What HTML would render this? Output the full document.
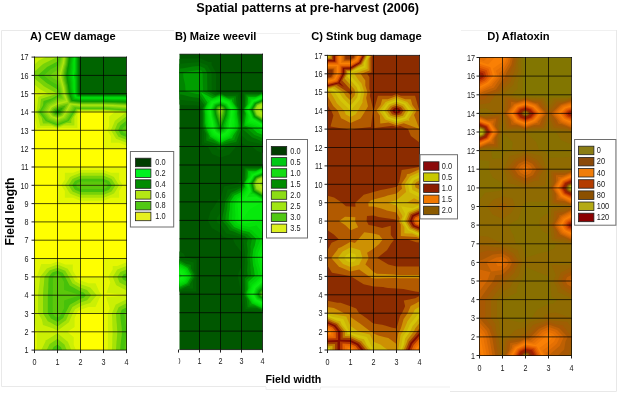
<!DOCTYPE html>
<html><head><meta charset="utf-8"><title>Spatial patterns at pre-harvest (2006)</title>
<style>
html,body{margin:0;padding:0;background:#fff;}
body{width:618px;height:396px;position:relative;overflow:hidden;font-family:"Liberation Sans",sans-serif;}
svg text{font-family:"Liberation Sans",sans-serif;}
</style></head><body>
<svg width="618" height="396" viewBox="0 0 618 396" style="position:absolute;left:0;top:0">
<g fill-rule="evenodd"><rect x="34.5" y="57.1" width="92.0" height="293.0" fill="rgb(0,100,0)"/>
<path fill="rgb(0,126,2)" d="M79.5,57.1 79.3,58.0 79.3,66.3 79.3,74.5 79.2,75.4 79.3,76.3 79.3,84.6 79.3,92.8 79.5,93.7 79.7,94.4 80.5,94.5 81.4,94.5 92.0,94.5 102.6,94.5 103.5,94.5 104.5,94.5 115.0,94.5 125.5,94.5 126.5,94.5 126.5,102.9 126.5,112.0 126.5,121.2 126.5,130.3 126.5,139.5 126.5,148.7 126.5,157.8 126.5,167.0 126.5,176.1 126.5,185.3 126.5,194.4 126.5,203.6 126.5,212.8 126.5,221.9 126.5,231.1 126.5,240.2 126.5,249.4 126.5,258.5 126.5,267.7 126.5,276.9 126.5,286.0 126.5,295.2 126.5,304.3 126.5,313.5 126.5,322.6 126.5,331.8 126.5,340.9 126.5,350.1 115.0,350.1 103.5,350.1 92.0,350.1 80.5,350.1 69.0,350.1 57.5,350.1 46.0,350.1 34.5,350.1 34.5,340.9 34.5,331.8 34.5,322.6 34.5,313.5 34.5,304.3 34.5,295.2 34.5,286.0 34.5,276.9 34.5,267.7 34.5,258.5 34.5,249.4 34.5,240.2 34.5,231.1 34.5,221.9 34.5,212.8 34.5,203.6 34.5,194.4 34.5,185.3 34.5,176.1 34.5,167.0 34.5,157.8 34.5,148.7 34.5,139.5 34.5,130.3 34.5,121.2 34.5,112.0 34.5,102.9 34.5,93.7 34.5,84.6 34.5,75.4 34.5,66.3 34.5,57.1 46.0,57.1 57.5,57.1 69.0,57.1Z"/>
<path fill="rgb(0,152,4)" d="M78.4,57.1 78.2,58.9 78.2,66.3 78.2,73.6 77.9,75.4 78.2,77.3 78.2,84.6 78.2,91.9 78.4,93.7 78.9,95.0 80.5,95.2 82.3,95.2 92.0,95.2 101.7,95.2 103.5,95.2 105.4,95.3 115.0,95.3 124.6,95.3 126.5,95.3 126.5,102.9 126.5,112.0 126.5,121.2 126.5,130.3 126.5,139.5 126.5,148.7 126.5,157.8 126.5,167.0 126.5,176.1 126.5,185.3 126.5,194.4 126.5,203.6 126.5,212.8 126.5,221.9 126.5,231.1 126.5,240.2 126.5,249.4 126.5,258.5 126.5,267.7 126.5,276.9 126.5,286.0 126.5,295.2 126.5,304.3 126.5,313.5 126.5,322.6 126.5,331.8 126.5,340.9 126.5,350.1 115.0,350.1 103.5,350.1 92.0,350.1 80.5,350.1 69.0,350.1 57.5,350.1 46.0,350.1 34.5,350.1 34.5,340.9 34.5,331.8 34.5,322.6 34.5,313.5 34.5,304.3 34.5,295.2 34.5,286.0 34.5,276.9 34.5,267.7 34.5,258.5 34.5,249.4 34.5,240.2 34.5,231.1 34.5,221.9 34.5,212.8 34.5,203.6 34.5,194.4 34.5,185.3 34.5,176.1 34.5,167.0 34.5,157.8 34.5,148.7 34.5,139.5 34.5,130.3 34.5,121.2 34.5,112.0 34.5,102.9 34.5,93.7 34.5,84.6 34.5,75.4 34.5,66.3 34.5,57.1 46.0,57.1 57.5,57.1 69.0,57.1Z"/>
<path fill="rgb(0,178,6)" d="M77.4,57.1 77.0,59.9 77.0,66.3 77.0,72.6 76.6,75.4 77.0,78.2 77.0,84.6 77.0,91.0 77.4,93.7 78.1,95.7 80.5,95.9 83.3,95.9 92.0,95.9 100.7,95.9 103.5,95.9 106.4,96.0 115.0,96.0 123.6,96.0 126.5,96.1 126.5,102.9 126.5,112.0 126.5,121.2 126.5,130.3 126.5,139.5 126.5,148.7 126.5,157.8 126.5,167.0 126.5,176.1 126.5,185.3 126.5,194.4 126.5,203.6 126.5,212.8 126.5,221.9 126.5,231.1 126.5,240.2 126.5,249.4 126.5,258.5 126.5,267.7 126.5,276.9 126.5,286.0 126.5,295.2 126.5,304.3 126.5,313.5 126.5,322.6 126.5,331.8 126.5,340.9 126.5,350.1 115.0,350.1 103.5,350.1 92.0,350.1 80.5,350.1 69.0,350.1 57.5,350.1 46.0,350.1 34.5,350.1 34.5,340.9 34.5,331.8 34.5,322.6 34.5,313.5 34.5,304.3 34.5,295.2 34.5,286.0 34.5,276.9 34.5,267.7 34.5,258.5 34.5,249.4 34.5,240.2 34.5,231.1 34.5,221.9 34.5,212.8 34.5,203.6 34.5,194.4 34.5,185.3 34.5,176.1 34.5,167.0 34.5,157.8 34.5,148.7 34.5,139.5 34.5,130.3 34.5,121.2 34.5,112.0 34.5,102.9 34.5,93.7 34.5,84.6 34.5,75.4 34.5,66.3 34.5,57.1 46.0,57.1 57.5,57.1 69.0,57.1Z"/>
<path fill="rgb(0,204,8)" d="M76.3,57.1 75.9,60.8 75.9,66.3 75.9,71.7 75.3,75.4 75.9,79.1 75.9,84.6 75.9,90.0 76.3,93.7 77.3,96.3 80.5,96.7 84.2,96.7 92.0,96.7 99.8,96.7 103.5,96.7 107.3,96.8 115.0,96.8 122.7,96.8 126.5,96.9 126.5,102.9 126.5,112.0 126.5,121.2 126.5,130.3 126.5,139.5 126.5,148.7 126.5,157.8 126.5,167.0 126.5,176.1 126.5,185.3 126.5,194.4 126.5,203.6 126.5,212.8 126.5,221.9 126.5,231.1 126.5,240.2 126.5,249.4 126.5,258.5 126.5,267.7 126.5,276.9 126.5,286.0 126.5,295.2 126.5,304.3 126.5,313.5 126.5,322.6 126.5,331.8 126.5,340.9 126.5,350.1 115.0,350.1 103.5,350.1 92.0,350.1 80.5,350.1 69.0,350.1 57.5,350.1 46.0,350.1 34.5,350.1 34.5,340.9 34.5,331.8 34.5,322.6 34.5,313.5 34.5,304.3 34.5,295.2 34.5,286.0 34.5,276.9 34.5,267.7 34.5,258.5 34.5,249.4 34.5,240.2 34.5,231.1 34.5,221.9 34.5,212.8 34.5,203.6 34.5,194.4 34.5,185.3 34.5,176.1 34.5,167.0 34.5,157.8 34.5,148.7 34.5,139.5 34.5,130.3 34.5,121.2 34.5,112.0 34.5,102.9 34.5,93.7 34.5,84.6 34.5,75.4 34.5,66.3 34.5,57.1 46.0,57.1 57.5,57.1 69.0,57.1Z"/>
<path fill="rgb(0,230,10)" d="M75.3,57.1 74.7,61.7 74.7,66.3 74.7,70.8 74.0,75.4 74.7,80.0 74.7,84.6 74.7,89.1 75.3,93.7 76.5,96.9 80.5,97.4 85.1,97.4 92.0,97.4 98.9,97.4 103.5,97.4 108.3,97.5 115.0,97.5 121.7,97.5 126.5,97.7 126.5,102.9 126.5,112.0 126.5,121.2 126.5,130.3 126.5,139.5 126.5,148.7 126.5,157.8 126.5,167.0 126.5,176.1 126.5,185.3 126.5,194.4 126.5,203.6 126.5,212.8 126.5,221.9 126.5,231.1 126.5,240.2 126.5,249.4 126.5,258.5 126.5,267.7 126.5,276.9 126.5,286.0 126.5,295.2 126.5,304.3 126.5,313.5 126.5,322.6 126.5,331.8 126.5,340.9 126.5,350.1 115.0,350.1 103.5,350.1 92.0,350.1 80.5,350.1 69.0,350.1 57.5,350.1 46.0,350.1 34.5,350.1 34.5,340.9 34.5,331.8 34.5,322.6 34.5,313.5 34.5,304.3 34.5,295.2 34.5,286.0 34.5,276.9 34.5,267.7 34.5,258.5 34.5,249.4 34.5,240.2 34.5,231.1 34.5,221.9 34.5,212.8 34.5,203.6 34.5,194.4 34.5,185.3 34.5,176.1 34.5,167.0 34.5,157.8 34.5,148.7 34.5,139.5 34.5,130.3 34.5,121.2 34.5,112.0 34.5,102.9 34.5,93.7 34.5,84.6 34.5,75.4 34.5,66.3 34.5,57.1 46.0,57.1 57.5,57.1 69.0,57.1Z"/>
<path fill="rgb(2,214,8)" d="M74.2,57.1 73.6,62.6 73.6,66.3 73.6,69.9 72.7,75.4 73.6,80.9 73.6,84.6 73.6,88.2 74.2,93.7 75.7,97.6 80.5,98.1 86.0,98.1 92.0,98.1 98.0,98.1 103.5,98.1 109.2,98.3 115.0,98.3 120.8,98.3 126.5,98.5 126.5,102.9 126.5,112.0 126.5,121.2 126.5,130.3 126.5,139.5 126.5,148.7 126.5,157.8 126.5,167.0 126.5,176.1 126.5,185.3 126.5,194.4 126.5,203.6 126.5,212.8 126.5,221.9 126.5,231.1 126.5,240.2 126.5,249.4 126.5,258.5 126.5,267.7 126.5,276.9 126.5,286.0 126.5,295.2 126.5,304.3 126.5,313.5 126.5,322.6 126.5,331.8 126.5,340.9 126.5,350.1 115.0,350.1 103.5,350.1 92.0,350.1 80.5,350.1 69.0,350.1 57.5,350.1 46.0,350.1 34.5,350.1 34.5,340.9 34.5,331.8 34.5,322.6 34.5,313.5 34.5,304.3 34.5,295.2 34.5,286.0 34.5,276.9 34.5,267.7 34.5,258.5 34.5,249.4 34.5,240.2 34.5,231.1 34.5,221.9 34.5,212.8 34.5,203.6 34.5,194.4 34.5,185.3 34.5,176.1 34.5,167.0 34.5,157.8 34.5,148.7 34.5,139.5 34.5,130.3 34.5,121.2 34.5,112.0 34.5,102.9 34.5,93.7 34.5,84.6 34.5,75.4 34.5,66.3 34.5,57.1 46.0,57.1 57.5,57.1 69.0,57.1Z"/>
<path fill="rgb(4,198,6)" d="M73.2,57.1 72.4,63.5 72.4,66.3 72.4,69.0 71.4,75.4 72.4,81.9 72.4,84.6 72.4,87.3 73.2,93.7 74.9,98.2 80.5,98.9 86.9,98.9 92.0,98.9 97.1,98.9 103.5,98.9 110.2,99.1 115.0,99.1 119.8,99.1 126.5,99.3 126.5,102.9 126.5,112.0 126.5,121.2 126.5,130.3 126.5,139.5 126.5,148.7 126.5,157.8 126.5,167.0 126.5,176.1 126.5,185.3 126.5,194.4 126.5,203.6 126.5,212.8 126.5,221.9 126.5,231.1 126.5,240.2 126.5,249.4 126.5,258.5 126.5,267.7 126.5,276.9 126.5,286.0 126.5,295.2 126.5,304.3 126.5,313.5 126.5,322.6 126.5,331.8 126.5,340.9 126.5,350.1 115.0,350.1 103.5,350.1 92.0,350.1 80.5,350.1 69.0,350.1 57.5,350.1 46.0,350.1 34.5,350.1 34.5,340.9 34.5,331.8 34.5,322.6 34.5,313.5 34.5,304.3 34.5,295.2 34.5,286.0 34.5,276.9 34.5,267.7 34.5,258.5 34.5,249.4 34.5,240.2 34.5,231.1 34.5,221.9 34.5,212.8 34.5,203.6 34.5,194.4 34.5,185.3 34.5,176.1 34.5,167.0 34.5,157.8 34.5,148.7 34.5,139.5 34.5,130.3 34.5,121.2 34.5,112.0 34.5,102.9 34.5,93.7 34.5,84.6 34.5,75.4 34.5,66.3 34.5,57.1 46.0,57.1 57.5,57.1 69.0,57.1Z"/>
<path fill="rgb(6,182,4)" d="M72.1,57.1 71.2,64.5 71.2,66.3 71.2,68.0 70.1,75.4 71.2,82.8 71.2,84.6 71.2,86.4 72.1,93.7 74.0,98.9 80.5,99.6 87.9,99.6 92.0,99.6 96.1,99.6 103.5,99.6 111.2,99.8 115.0,99.8 118.8,99.8 126.5,100.1 126.5,102.9 126.5,112.0 126.5,121.2 126.5,130.3 126.5,139.5 126.5,148.7 126.5,157.8 126.5,167.0 126.5,176.1 126.5,185.3 126.5,194.4 126.5,203.6 126.5,212.8 126.5,221.9 126.5,231.1 126.5,240.2 126.5,249.4 126.5,258.5 126.5,267.7 126.5,276.9 126.5,286.0 126.5,295.2 126.5,304.3 126.5,313.5 126.5,322.6 126.5,331.8 126.5,340.9 126.5,350.1 115.0,350.1 103.5,350.1 92.0,350.1 80.5,350.1 69.0,350.1 57.5,350.1 46.0,350.1 34.5,350.1 34.5,340.9 34.5,331.8 34.5,322.6 34.5,313.5 34.5,304.3 34.5,295.2 34.5,286.0 34.5,276.9 34.5,267.7 34.5,258.5 34.5,249.4 34.5,240.2 34.5,231.1 34.5,221.9 34.5,212.8 34.5,203.6 34.5,194.4 34.5,185.3 34.5,176.1 34.5,167.0 34.5,157.8 34.5,148.7 34.5,139.5 34.5,130.3 34.5,121.2 34.5,112.0 34.5,102.9 34.5,93.7 34.5,84.6 34.5,75.4 34.5,66.3 34.5,57.1 46.0,57.1 57.5,57.1 69.0,57.1Z"/>
<path fill="rgb(8,166,2)" d="M71.1,57.1 70.1,65.4 70.1,66.3 70.1,67.1 69.0,74.3 68.8,75.4 69.0,76.5 70.1,83.7 70.1,84.6 70.1,85.4 71.1,93.7 73.2,99.5 80.5,100.3 88.8,100.3 92.0,100.3 95.2,100.3 103.5,100.3 112.1,100.6 115.0,100.6 117.9,100.6 126.5,100.9 126.5,102.9 126.5,112.0 126.5,121.2 126.5,130.3 126.5,139.5 126.5,148.7 126.5,157.8 126.5,167.0 126.5,176.1 126.5,185.3 126.5,194.4 126.5,203.6 126.5,212.8 126.5,221.9 126.5,231.1 126.5,240.2 126.5,249.4 126.5,258.5 126.5,267.7 126.5,276.9 126.5,286.0 126.5,295.2 126.5,304.3 126.5,313.5 126.5,322.6 126.5,331.8 126.5,340.9 126.5,350.1 115.0,350.1 103.5,350.1 92.0,350.1 80.5,350.1 69.0,350.1 57.5,350.1 46.0,350.1 34.5,350.1 34.5,340.9 34.5,331.8 34.5,322.6 34.5,313.5 34.5,304.3 34.5,295.2 34.5,286.0 34.5,276.9 34.5,267.7 34.5,258.5 34.5,249.4 34.5,240.2 34.5,231.1 34.5,221.9 34.5,212.8 34.5,203.6 34.5,194.4 34.5,185.3 34.5,176.1 34.5,167.0 34.5,157.8 34.5,148.7 34.5,139.5 34.5,130.3 34.5,121.2 34.5,112.0 34.5,102.9 34.5,93.7 34.5,84.6 34.5,75.4 34.5,66.3 34.5,57.1 46.0,57.1 57.5,57.1 69.0,57.1Z"/>
<path fill="rgb(10,150,0)" d="M70.0,57.1 69.0,65.7 68.9,66.2 68.9,66.3 68.9,66.3 67.5,75.4 68.9,84.5 68.9,84.6 68.9,84.6 69.0,85.1 70.0,93.7 72.4,100.2 80.5,101.0 89.7,101.0 92.0,101.0 94.3,101.0 103.5,101.0 113.1,101.4 115.0,101.4 116.9,101.4 126.5,101.7 126.5,102.9 126.5,112.0 126.5,121.2 126.5,130.3 126.5,139.5 126.5,148.7 126.5,157.8 126.5,167.0 126.5,176.1 126.5,185.3 126.5,194.4 126.5,203.6 126.5,212.8 126.5,221.9 126.5,231.1 126.5,240.2 126.5,249.4 126.5,258.5 126.5,267.7 126.5,276.9 126.5,286.0 126.5,295.2 126.5,304.3 126.5,313.5 126.5,322.6 126.5,331.8 126.5,340.9 126.5,350.1 115.0,350.1 103.5,350.1 92.0,350.1 80.5,350.1 69.0,350.1 57.5,350.1 46.0,350.1 34.5,350.1 34.5,340.9 34.5,331.8 34.5,322.6 34.5,313.5 34.5,304.3 34.5,295.2 34.5,286.0 34.5,276.9 34.5,267.7 34.5,258.5 34.5,249.4 34.5,240.2 34.5,231.1 34.5,221.9 34.5,212.8 34.5,203.6 34.5,194.4 34.5,185.3 34.5,176.1 34.5,167.0 34.5,157.8 34.5,148.7 34.5,139.5 34.5,130.3 34.5,121.2 34.5,112.0 34.5,102.9 34.5,93.7 34.5,84.6 34.5,75.4 34.5,66.3 34.5,57.1 46.0,57.1 57.5,57.1 69.0,57.1Z"/>
<path fill="rgb(43,166,3)" d="M69.0,57.1 68.0,65.4 67.8,66.3 67.4,67.5 66.2,75.4 67.4,83.3 67.8,84.6 68.0,85.4 69.0,93.7 71.6,100.8 80.5,101.8 90.6,101.8 92.0,101.8 93.4,101.8 103.5,101.8 114.0,102.1 115.0,102.1 116.0,102.1 126.5,102.5 126.5,102.9 126.5,112.0 126.5,121.2 126.5,130.3 126.5,139.5 126.5,148.7 126.5,157.8 126.5,167.0 126.5,176.1 126.5,185.3 126.5,194.4 126.5,203.6 126.5,212.8 126.5,221.9 126.5,231.1 126.5,240.2 126.5,249.4 126.5,258.5 126.5,267.7 126.5,276.9 126.5,286.0 126.5,295.2 126.5,304.3 126.5,313.5 126.5,322.6 126.5,331.8 126.5,340.9 126.5,350.1 115.0,350.1 103.5,350.1 92.0,350.1 80.5,350.1 69.0,350.1 57.5,350.1 46.0,350.1 34.5,350.1 34.5,340.9 34.5,331.8 34.5,322.6 34.5,313.5 34.5,304.3 34.5,295.2 34.5,286.0 34.5,276.9 34.5,267.7 34.5,258.5 34.5,249.4 34.5,240.2 34.5,231.1 34.5,221.9 34.5,212.8 34.5,203.6 34.5,194.4 34.5,185.3 34.5,176.1 34.5,167.0 34.5,157.8 34.5,148.7 34.5,139.5 34.5,130.3 34.5,121.2 34.5,112.0 34.5,102.9 34.5,93.7 34.5,84.6 34.5,75.4 34.5,66.3 34.5,57.1 46.0,57.1 57.5,57.1ZM56.4,111.1 55.8,112.0 56.4,112.9 57.5,113.3 58.5,112.9 59.0,112.0 60.2,109.9 57.5,110.5Z"/>
<path fill="rgb(76,182,6)" d="M68.0,57.1 67.0,64.7 66.6,66.3 66.0,68.7 65.0,75.4 66.0,82.2 66.6,84.6 67.0,86.1 68.0,93.7 69.0,96.5 70.8,101.4 80.5,102.5 91.5,102.5 92.0,102.5 92.5,102.5 103.5,102.5 115.0,102.9 126.5,103.3 126.5,112.0 126.5,121.2 126.5,130.3 126.5,139.5 126.5,148.7 126.5,157.8 126.5,167.0 126.5,176.1 126.5,185.3 126.5,194.4 126.5,203.6 126.5,212.8 126.5,221.9 126.5,231.1 126.5,240.2 126.5,249.4 126.5,258.5 126.5,267.7 126.5,276.9 126.5,286.0 126.5,295.2 126.5,304.3 126.5,313.5 126.5,322.6 126.5,331.8 126.5,340.9 126.5,350.1 115.0,350.1 103.5,350.1 92.0,350.1 80.5,350.1 69.0,350.1 57.5,350.1 46.0,350.1 34.5,350.1 34.5,340.9 34.5,331.8 34.5,322.6 34.5,313.5 34.5,304.3 34.5,295.2 34.5,286.0 34.5,276.9 34.5,267.7 34.5,258.5 34.5,249.4 34.5,240.2 34.5,231.1 34.5,221.9 34.5,212.8 34.5,203.6 34.5,194.4 34.5,185.3 34.5,176.1 34.5,167.0 34.5,157.8 34.5,148.7 34.5,139.5 34.5,130.3 34.5,121.2 34.5,112.0 34.5,102.9 34.5,93.7 34.5,84.6 34.5,75.4 34.5,66.3 34.5,57.1 46.0,57.1 57.5,57.1ZM55.2,110.2 54.2,112.0 55.4,113.7 57.5,114.5 59.5,113.7 60.6,112.0 62.9,107.7 57.5,109.0Z"/>
<path fill="rgb(109,198,9)" d="M66.9,57.1 66.1,63.9 65.5,66.3 64.5,69.8 63.7,75.4 64.5,81.0 65.5,84.6 66.1,86.9 66.9,93.7 69.0,99.4 70.0,102.1 77.2,102.9 80.5,103.2 91.5,103.2 92.0,103.2 92.5,103.2 103.5,103.2 114.1,103.6 115.0,103.6 116.0,103.7 126.5,104.1 126.5,112.0 126.5,121.2 126.5,130.3 126.5,139.5 126.5,148.7 126.5,157.8 126.5,167.0 126.5,176.1 126.5,185.3 126.5,194.4 126.5,203.6 126.5,212.8 126.5,221.9 126.5,231.1 126.5,240.2 126.5,249.4 126.5,258.5 126.5,267.7 126.5,276.9 126.5,286.0 126.5,295.2 126.5,304.3 126.5,313.5 126.5,322.6 126.5,331.8 126.5,340.9 126.5,350.1 115.0,350.1 103.5,350.1 92.0,350.1 80.5,350.1 69.0,350.1 57.5,350.1 46.0,350.1 34.5,350.1 34.5,340.9 34.5,331.8 34.5,322.6 34.5,313.5 34.5,304.3 34.5,295.2 34.5,286.0 34.5,276.9 34.5,267.7 34.5,258.5 34.5,249.4 34.5,240.2 34.5,231.1 34.5,221.9 34.5,212.8 34.5,203.6 34.5,194.4 34.5,185.3 34.5,176.1 34.5,167.0 34.5,157.8 34.5,148.7 34.5,139.5 34.5,130.3 34.5,121.2 34.5,112.0 34.5,102.9 34.5,93.7 34.5,84.6 34.5,75.4 34.5,66.3 34.5,57.1 46.0,57.1 57.5,57.1ZM54.1,109.3 52.5,112.0 54.3,114.5 57.5,115.7 60.6,114.5 62.1,112.0 65.6,105.6 57.5,107.5Z"/>
<path fill="rgb(142,214,12)" d="M65.9,57.1 65.1,63.2 64.3,66.3 63.0,71.0 62.4,75.4 63.0,79.8 64.3,84.6 65.1,87.7 65.9,93.7 69.0,102.2 69.2,102.7 70.6,102.9 80.5,104.0 90.6,104.0 92.0,104.0 93.4,104.0 103.5,104.0 113.2,104.3 115.0,104.4 117.1,104.5 126.5,104.9 126.5,112.0 126.5,121.2 126.5,130.3 126.5,139.5 126.5,148.7 126.5,157.8 126.5,167.0 126.5,176.1 126.5,185.3 126.5,194.4 126.5,203.6 126.5,212.8 126.5,221.9 126.5,231.1 126.5,240.2 126.5,249.4 126.5,258.5 126.5,267.7 126.5,276.9 126.5,286.0 126.5,295.2 126.5,304.3 126.5,313.5 126.5,322.6 126.5,331.8 126.5,340.9 126.5,350.1 115.0,350.1 103.5,350.1 92.0,350.1 80.5,350.1 69.0,350.1 57.5,350.1 46.0,350.1 34.5,350.1 34.5,340.9 34.5,331.8 34.5,322.6 34.5,313.5 34.5,304.3 34.5,295.2 34.5,286.0 34.5,276.9 34.5,267.7 34.5,258.5 34.5,249.4 34.5,240.2 34.5,231.1 34.5,221.9 34.5,212.8 34.5,203.6 34.5,194.4 34.5,185.3 34.5,176.1 34.5,167.0 34.5,157.8 34.5,148.7 34.5,139.5 34.5,130.3 34.5,121.2 34.5,112.0 34.5,102.9 34.5,93.7 34.5,84.6 34.5,75.4 34.5,66.3 34.5,57.1 46.0,57.1 57.5,57.1ZM52.9,108.4 50.8,112.0 53.3,115.4 57.5,116.9 61.6,115.3 63.6,112.0 68.3,103.4 57.5,105.9Z"/>
<path fill="rgb(175,230,15)" d="M64.8,57.1 64.2,62.4 63.1,66.3 61.5,72.2 61.1,75.4 61.5,78.6 63.1,84.6 64.2,88.4 64.8,93.7 67.9,102.0 64.1,102.9 57.5,104.4 51.8,107.5 49.1,112.0 52.2,116.2 57.5,118.1 62.6,116.1 65.2,112.0 69.0,105.0 69.8,103.5 80.5,104.7 89.7,104.7 92.0,104.7 94.3,104.7 103.5,104.7 112.3,105.0 115.0,105.2 118.1,105.4 126.5,105.7 126.5,112.0 126.5,121.2 126.5,130.3 126.5,139.5 126.5,148.7 126.5,157.8 126.5,167.0 126.5,176.1 126.5,185.3 126.5,194.4 126.5,203.6 126.5,212.8 126.5,221.9 126.5,231.1 126.5,240.2 126.5,249.4 126.5,258.5 126.5,267.7 126.5,276.9 126.5,286.0 126.5,295.2 126.5,304.3 126.5,313.5 126.5,322.6 126.5,331.8 126.5,340.9 126.5,350.1 115.0,350.1 103.5,350.1 92.0,350.1 80.5,350.1 69.0,350.1 57.5,350.1 46.0,350.1 34.5,350.1 34.5,340.9 34.5,331.8 34.5,322.6 34.5,313.5 34.5,304.3 34.5,295.2 34.5,286.0 34.5,276.9 34.5,267.7 34.5,258.5 34.5,249.4 34.5,240.2 34.5,231.1 34.5,221.9 34.5,212.8 34.5,203.6 34.5,194.4 34.5,185.3 34.5,176.1 34.5,167.0 34.5,157.8 34.5,148.7 34.5,139.5 34.5,130.3 34.5,121.2 34.5,112.0 34.5,102.9 34.5,93.7 34.5,84.6 34.5,75.4 34.5,66.3 34.5,57.1 46.0,57.1 57.5,57.1Z"/>
<path fill="rgb(154,223,14)" d="M63.8,57.1 63.2,61.7 62.0,66.3 60.1,73.4 59.8,75.4 60.1,77.5 62.0,84.6 63.2,89.2 63.8,93.7 66.4,100.8 57.5,102.9 50.6,106.6 47.5,112.0 51.2,117.1 57.5,119.4 63.6,116.9 66.7,112.0 69.0,107.8 70.9,104.4 80.5,105.4 88.8,105.4 92.0,105.4 95.2,105.4 103.5,105.4 111.5,105.7 115.0,105.9 119.2,106.2 126.5,106.5 126.5,112.0 126.5,121.2 126.5,130.3 126.5,139.5 126.5,148.7 126.5,157.8 126.5,167.0 126.5,176.1 126.5,185.3 126.5,194.4 126.5,203.6 126.5,212.8 126.5,221.9 126.5,231.1 126.5,240.2 126.5,249.4 126.5,258.5 126.5,267.7 126.5,276.9 126.5,286.0 126.5,295.2 126.5,304.3 126.5,313.5 126.5,322.6 126.5,331.8 126.5,340.9 126.5,350.1 115.0,350.1 103.5,350.1 92.0,350.1 80.5,350.1 69.0,350.1 57.5,350.1 46.0,350.1 34.5,350.1 34.5,340.9 34.5,331.8 34.5,322.6 34.5,313.5 34.5,304.3 34.5,295.2 34.5,286.0 34.5,276.9 34.5,267.7 34.5,258.5 34.5,249.4 34.5,240.2 34.5,231.1 34.5,221.9 34.5,212.8 34.5,203.6 34.5,194.4 34.5,185.3 34.5,176.1 34.5,167.0 34.5,157.8 34.5,148.7 34.5,139.5 34.5,130.3 34.5,121.2 34.5,112.0 34.5,102.9 34.5,93.7 34.5,84.6 34.5,75.4 34.5,66.3 34.5,57.1 46.0,57.1 57.5,57.1Z"/>
<path fill="rgb(133,215,13)" d="M62.7,57.1 62.3,60.9 60.8,66.3 58.6,74.5 58.5,75.4 58.6,76.3 60.8,84.6 62.3,89.9 62.7,93.7 64.9,99.6 57.5,101.4 54.7,102.9 49.5,105.7 46.0,111.7 45.8,112.0 46.0,112.3 50.1,117.9 57.5,120.6 64.7,117.7 68.2,112.0 69.0,110.6 71.9,105.2 80.5,106.2 87.9,106.2 92.0,106.2 96.1,106.2 103.5,106.2 110.6,106.4 115.0,106.7 120.2,107.0 126.5,107.3 126.5,112.0 126.5,121.2 126.5,130.3 126.5,139.5 126.5,148.7 126.5,157.8 126.5,167.0 126.5,176.1 126.5,185.3 126.5,194.4 126.5,203.6 126.5,212.8 126.5,221.9 126.5,231.1 126.5,240.2 126.5,249.4 126.5,258.5 126.5,267.7 126.5,276.9 126.5,286.0 126.5,295.2 126.5,304.3 126.5,313.5 126.5,322.6 126.5,331.8 126.5,340.9 126.5,350.1 115.0,350.1 103.5,350.1 92.0,350.1 80.5,350.1 69.0,350.1 57.5,350.1 46.0,350.1 34.5,350.1 34.5,340.9 34.5,331.8 34.5,322.6 34.5,313.5 34.5,304.3 34.5,295.2 34.5,286.0 34.5,276.9 34.5,267.7 34.5,258.5 34.5,249.4 34.5,240.2 34.5,231.1 34.5,221.9 34.5,212.8 34.5,203.6 34.5,194.4 34.5,185.3 34.5,176.1 34.5,167.0 34.5,157.8 34.5,148.7 34.5,139.5 34.5,130.3 34.5,121.2 34.5,112.0 34.5,102.9 34.5,93.7 34.5,84.6 34.5,75.4 34.5,66.3 34.5,57.1 46.0,57.1 57.5,57.1Z"/>
<path fill="rgb(112,208,12)" d="M61.7,57.1 61.3,60.1 59.7,66.3 57.5,74.3 56.7,74.8 56.0,75.4 56.7,76.0 57.5,76.5 59.7,84.6 61.3,90.7 61.7,93.7 63.4,98.5 57.5,99.8 51.8,102.9 48.4,104.8 46.0,108.8 44.1,112.0 46.0,114.6 49.1,118.7 55.8,121.2 57.5,121.8 59.0,121.2 65.7,118.5 69.0,113.3 69.8,112.0 73.0,106.1 80.5,106.9 86.9,106.9 92.0,106.9 97.1,106.9 103.5,106.9 109.7,107.1 115.0,107.5 121.3,107.9 126.5,108.1 126.5,112.0 126.5,121.2 126.5,130.3 126.5,139.5 126.5,148.7 126.5,157.8 126.5,167.0 126.5,176.1 126.5,185.3 126.5,194.4 126.5,203.6 126.5,212.8 126.5,221.9 126.5,231.1 126.5,240.2 126.5,249.4 126.5,258.5 126.5,267.7 126.5,276.9 126.5,286.0 126.5,295.2 126.5,304.3 126.5,313.5 126.5,322.6 126.5,331.8 126.5,340.9 126.5,350.1 115.0,350.1 103.5,350.1 92.0,350.1 80.5,350.1 69.0,350.1 57.5,350.1 46.0,350.1 34.5,350.1 34.5,340.9 34.5,331.8 34.5,322.6 34.5,313.5 34.5,304.3 34.5,295.2 34.5,286.0 34.5,276.9 34.5,267.7 34.5,258.5 34.5,249.4 34.5,240.2 34.5,231.1 34.5,221.9 34.5,212.8 34.5,203.6 34.5,194.4 34.5,185.3 34.5,176.1 34.5,167.0 34.5,157.8 34.5,148.7 34.5,139.5 34.5,130.3 34.5,121.2 34.5,112.0 34.5,102.9 34.5,93.7 34.5,84.6 34.5,75.4 34.5,66.3 34.5,57.1 46.0,57.1 57.5,57.1Z"/>
<path fill="rgb(91,200,11)" d="M60.6,57.1 60.4,59.4 58.5,66.3 57.5,70.0 53.5,72.2 49.8,75.4 53.6,78.5 57.5,80.8 58.5,84.6 60.4,91.4 60.6,93.7 62.0,97.3 57.5,98.3 49.0,102.9 47.2,103.8 46.0,105.9 42.4,112.0 46.0,116.8 48.0,119.6 52.5,121.2 57.5,123.0 62.1,121.2 66.7,119.4 69.0,115.7 71.3,112.0 74.1,106.9 80.5,107.6 86.0,107.6 92.0,107.6 98.0,107.6 103.5,107.6 108.8,107.8 115.0,108.2 122.3,108.7 126.5,108.9 126.5,112.0 126.5,121.2 126.5,129.3 125.8,129.8 125.6,130.3 125.9,130.8 126.5,131.1 126.5,139.5 126.5,148.7 126.5,157.8 126.5,167.0 126.5,176.1 126.5,185.3 126.5,194.4 126.5,203.6 126.5,212.8 126.5,221.9 126.5,231.1 126.5,240.2 126.5,249.4 126.5,258.5 126.5,267.7 126.5,276.9 126.5,286.0 126.5,295.2 126.5,304.3 126.5,313.5 126.5,322.6 126.5,331.8 126.5,340.9 126.5,350.1 115.0,350.1 103.5,350.1 92.0,350.1 80.5,350.1 69.0,350.1 57.5,350.1 46.0,350.1 34.5,350.1 34.5,340.9 34.5,331.8 34.5,322.6 34.5,313.5 34.5,304.3 34.5,295.2 34.5,286.0 34.5,276.9 34.5,267.7 34.5,258.5 34.5,249.4 34.5,240.2 34.5,231.1 34.5,221.9 34.5,212.8 34.5,203.6 34.5,194.4 34.5,185.3 34.5,176.1 34.5,167.0 34.5,157.8 34.5,148.7 34.5,139.5 34.5,130.3 34.5,121.2 34.5,112.0 34.5,102.9 34.5,93.7 34.5,84.6 34.5,75.4 34.5,66.3 34.5,57.1 46.0,57.1 57.5,57.1ZM79.9,184.8 79.6,185.3 79.9,185.8 80.5,186.0 81.4,186.0 92.0,186.0 102.6,186.0 103.5,186.0 104.1,185.8 104.4,185.3 104.1,184.8 103.5,184.6 102.6,184.6 92.0,184.6 81.4,184.6 80.5,184.6Z"/>
<path fill="rgb(70,193,10)" d="M59.6,57.1 59.4,58.6 57.5,65.7 56.5,66.3 50.2,69.6 46.0,73.4 43.7,75.4 46.0,77.3 50.5,81.0 56.6,84.6 57.5,85.1 59.4,92.2 59.6,93.7 60.5,96.1 57.5,96.8 46.2,102.9 46.1,102.9 46.0,103.1 40.8,112.0 46.0,119.1 47.0,120.4 49.1,121.2 57.5,124.2 65.2,121.2 67.7,120.2 69.0,118.1 72.8,112.0 75.2,107.8 80.5,108.4 85.1,108.4 92.0,108.4 98.9,108.4 103.5,108.4 107.9,108.5 115.0,109.0 123.4,109.5 126.5,109.6 126.5,112.0 126.5,121.2 126.5,125.0 123.1,127.6 121.9,130.3 123.4,132.8 126.5,134.0 126.5,139.5 126.5,148.7 126.5,157.8 126.5,167.0 126.5,176.1 126.5,185.3 126.5,194.4 126.5,203.6 126.5,212.8 126.5,221.9 126.5,231.1 126.5,240.2 126.5,249.4 126.5,258.5 126.5,267.7 126.5,276.9 126.5,286.0 126.5,295.2 126.5,304.3 126.5,311.4 124.9,312.2 124.4,313.5 124.5,315.1 125.4,322.6 126.5,331.8 125.4,340.9 124.5,348.5 124.4,350.1 115.0,350.1 103.5,350.1 92.0,350.1 80.5,350.1 69.0,350.1 57.5,350.1 46.0,350.1 34.5,350.1 34.5,340.9 34.5,331.8 34.5,322.6 34.5,313.5 34.5,304.3 34.5,295.2 34.5,286.0 34.5,276.9 34.5,267.7 34.5,258.5 34.5,249.4 34.5,240.2 34.5,231.1 34.5,221.9 34.5,212.8 34.5,203.6 34.5,194.4 34.5,185.3 34.5,176.1 34.5,167.0 34.5,157.8 34.5,148.7 34.5,139.5 34.5,130.3 34.5,121.2 34.5,112.0 34.5,102.9 34.5,93.7 34.5,84.6 34.5,75.4 34.5,66.3 34.5,57.1 46.0,57.1 57.5,57.1ZM77.4,182.8 75.9,185.3 77.4,187.7 80.5,188.9 85.1,188.9 92.0,188.9 98.9,188.9 103.5,188.9 106.6,187.7 108.1,185.3 106.6,182.8 103.5,181.6 98.9,181.6 92.0,181.6 85.1,181.6 80.5,181.6ZM54.8,274.7 53.1,276.9 52.9,280.5 52.9,286.0 52.9,291.5 52.7,295.2 52.7,299.0 52.7,304.3 52.7,309.6 52.7,313.5 54.3,316.0 57.5,317.8 60.3,315.7 61.3,313.5 64.1,308.2 64.1,304.3 64.1,300.4 69.0,298.8 80.5,295.2 69.0,291.5 64.1,289.9 64.1,286.0 64.1,282.1 61.3,276.9 60.1,274.8 57.5,273.8Z"/>
<path fill="rgb(118,210,8)" d="M58.5,57.1 58.5,57.9 57.5,61.4 48.5,66.3 47.0,67.1 46.0,68.0 37.6,75.4 46.0,82.4 47.4,83.5 49.2,84.6 57.5,89.4 58.5,93.0 58.5,93.7 59.0,94.9 57.5,95.3 51.6,98.5 46.0,100.2 43.6,100.9 43.3,102.9 43.1,105.2 39.1,112.0 45.7,121.0 45.8,121.2 45.8,121.3 46.0,121.3 46.2,121.3 57.5,125.5 68.2,121.2 68.7,121.0 69.0,120.6 74.4,112.0 76.2,108.6 80.5,109.1 84.2,109.1 92.0,109.1 99.8,109.1 103.5,109.1 107.0,109.2 115.0,109.7 124.4,110.4 126.5,110.4 126.5,112.0 126.5,120.7 125.8,121.2 120.3,125.4 118.2,130.3 121.0,134.7 126.5,136.9 126.5,139.5 126.5,148.7 126.5,157.8 126.5,167.0 126.5,176.1 126.5,185.3 126.5,194.4 126.5,203.6 126.5,212.8 126.5,221.9 126.5,231.1 126.5,240.2 126.5,249.4 126.5,258.5 126.5,267.7 126.5,273.2 123.4,274.4 121.9,276.9 123.0,279.6 126.5,281.4 126.5,286.0 126.5,295.2 126.5,304.3 126.5,307.4 121.8,309.8 120.2,313.5 120.5,318.3 121.0,322.6 121.7,327.9 121.9,331.8 121.7,335.6 121.0,340.9 120.5,345.3 120.2,350.1 115.0,350.1 103.5,350.1 92.0,350.1 80.5,350.1 69.0,350.1 62.1,350.1 61.0,347.3 57.5,344.5 53.6,347.0 52.1,350.1 46.0,350.1 34.5,350.1 34.5,340.9 34.5,331.8 34.5,322.6 34.5,313.5 34.5,304.3 34.5,295.2 34.5,286.0 34.5,276.9 34.5,267.7 34.5,258.5 34.5,249.4 34.5,240.2 34.5,231.1 34.5,221.9 34.5,212.8 34.5,203.6 34.5,194.4 34.5,185.3 34.5,176.1 34.5,167.0 34.5,157.8 34.5,148.7 34.5,139.5 34.5,130.3 34.5,121.2 34.5,112.0 34.5,102.9 34.5,93.7 34.5,84.6 34.5,75.4 34.5,66.3 34.5,57.1 46.0,57.1 57.5,57.1ZM75.0,180.9 72.2,185.3 75.0,189.7 80.5,191.9 88.8,191.9 92.0,191.9 95.2,191.9 103.5,191.9 109.0,189.7 111.8,185.3 109.0,180.9 103.5,178.7 95.2,178.7 92.0,178.7 88.8,178.7 80.5,178.7ZM52.2,272.6 48.7,276.9 48.3,284.2 48.3,286.0 48.3,287.8 47.8,295.2 47.8,302.9 47.8,304.3 47.8,305.8 47.8,313.5 51.0,318.6 57.5,322.1 63.2,318.0 65.2,313.5 69.0,306.2 69.7,304.9 70.6,304.3 80.5,298.8 83.7,297.7 85.9,295.2 83.7,292.6 80.5,291.5 70.6,286.0 69.7,285.5 69.0,284.2 65.2,276.9 62.6,272.8 57.5,270.7Z"/>
<path fill="rgb(166,227,6)" d="M57.5,57.1 46.0,62.5 43.1,63.9 40.5,66.3 34.5,71.7 34.5,66.3 34.5,57.1 46.0,57.1ZM126.5,116.3 120.2,121.2 117.6,123.2 115.0,129.3 114.5,130.3 115.0,131.1 118.5,136.7 125.6,139.5 126.5,139.9 126.5,148.7 126.5,157.8 126.5,167.0 126.5,176.1 126.5,185.3 126.5,194.4 126.5,203.6 126.5,212.8 126.5,221.9 126.5,231.1 126.5,240.2 126.5,249.4 126.5,258.5 126.5,267.7 126.5,269.5 120.4,272.0 117.3,276.9 119.6,282.4 126.5,286.0 126.5,295.2 126.5,303.3 124.5,304.3 118.7,307.3 116.0,313.5 116.5,321.4 116.6,322.6 116.8,324.1 117.3,331.8 116.8,339.5 116.6,340.9 116.5,342.1 116.0,350.1 115.0,350.1 103.5,350.1 92.0,350.1 80.5,350.1 69.0,350.1 66.7,350.1 64.4,344.6 60.1,340.9 57.5,338.8 54.2,340.9 49.7,343.9 46.7,350.1 46.0,350.1 34.5,350.1 34.5,340.9 34.5,331.8 34.5,322.6 34.5,313.5 34.5,304.3 34.5,295.2 34.5,286.0 34.5,276.9 34.5,267.7 34.5,258.5 34.5,249.4 34.5,240.2 34.5,231.1 34.5,221.9 34.5,212.8 34.5,203.6 34.5,194.4 34.5,185.3 34.5,176.1 34.5,167.0 34.5,157.8 34.5,148.7 34.5,139.5 34.5,130.3 34.5,121.2 34.5,112.0 34.5,102.9 34.5,93.7 34.5,84.6 34.5,78.5 41.9,84.6 43.9,86.3 46.0,87.4 57.5,93.7 46.0,97.3 41.0,98.9 40.5,102.9 40.0,107.7 37.4,112.0 41.7,117.7 42.4,121.2 43.0,123.6 46.0,123.6 49.0,123.6 57.5,126.7 66.7,123.0 69.0,123.0 71.3,123.0 71.3,121.2 71.3,119.4 75.9,112.0 77.3,109.5 80.5,109.8 83.3,109.8 92.0,109.8 100.7,109.8 103.5,109.8 106.2,109.9 115.0,110.5 125.5,111.2 126.5,111.2 126.5,112.0ZM79.6,176.1 72.5,178.9 69.0,184.6 68.5,185.3 69.0,186.0 72.5,191.6 79.6,194.4 80.5,194.8 91.5,194.8 92.0,194.8 92.5,194.8 103.5,194.8 104.4,194.4 111.5,191.6 115.0,186.0 115.5,185.3 115.0,184.6 111.5,178.9 104.4,176.1 103.5,175.8 92.5,175.8 92.0,175.8 91.5,175.8 80.5,175.8ZM49.5,270.5 46.0,274.8 44.4,276.9 43.9,284.3 43.7,286.0 43.4,288.0 43.0,295.2 43.0,301.9 43.0,304.3 43.0,306.7 43.0,313.5 46.0,318.3 47.8,321.2 50.5,322.6 57.5,326.4 62.7,322.6 66.0,320.2 69.0,313.5 72.4,307.0 77.2,304.3 80.5,302.5 87.0,300.3 91.3,295.2 87.0,290.0 80.5,287.8 77.2,286.0 72.4,283.3 69.0,276.9 65.2,270.7 57.5,267.7Z"/>
<path fill="rgb(203,240,4)" d="M46.0,57.1 38.8,60.5 34.5,64.4 34.5,57.1ZM126.5,112.0 115.0,120.7 114.7,120.9 114.7,121.2 114.7,121.5 110.9,130.3 115.0,136.9 116.1,138.7 118.2,139.5 126.5,142.8 126.5,148.7 126.5,157.8 126.5,167.0 126.5,176.1 126.5,185.3 126.5,194.4 126.5,203.6 126.5,212.8 126.5,221.9 126.5,231.1 126.5,240.2 126.5,249.4 126.5,258.5 126.5,265.9 121.9,267.7 117.3,269.5 115.0,273.2 112.7,276.9 115.0,282.5 116.1,285.1 117.7,286.0 126.5,290.6 126.5,295.2 126.5,299.2 116.5,304.3 115.6,304.8 115.0,306.2 111.9,313.5 112.3,320.5 112.3,322.6 112.3,324.8 112.7,331.8 112.3,338.8 112.3,340.9 112.3,343.1 111.9,350.1 103.5,350.1 92.0,350.1 80.5,350.1 71.3,350.1 69.0,344.5 67.9,341.8 66.9,340.9 57.5,333.2 48.3,339.1 46.0,340.2 45.5,340.5 45.5,340.9 45.5,341.4 41.3,350.1 34.5,350.1 34.5,340.9 34.5,331.8 34.5,322.6 34.5,313.5 34.5,304.3 34.5,295.2 34.5,286.0 34.5,276.9 34.5,267.7 34.5,258.5 34.5,249.4 34.5,240.2 34.5,231.1 34.5,221.9 34.5,212.8 34.5,203.6 34.5,194.4 34.5,185.3 34.5,176.1 34.5,167.0 34.5,157.8 34.5,148.7 34.5,139.5 34.5,130.3 34.5,121.2 34.5,112.0 34.5,102.9 34.5,93.7 34.5,84.6 40.1,89.2 46.0,92.5 48.3,93.7 46.0,94.4 38.4,96.8 37.7,102.9 36.8,110.2 35.8,112.0 37.6,114.5 39.1,121.2 40.2,125.8 46.0,125.8 51.8,125.8 57.5,127.9 63.6,125.5 69.0,125.5 74.4,125.5 74.4,121.2 74.4,116.9 77.4,112.0 78.4,110.3 80.5,110.6 82.3,110.6 92.0,110.6 101.7,110.6 103.5,110.6 105.3,110.6 115.0,111.3ZM72.2,176.1 70.1,177.0 69.0,178.7 64.9,185.3 69.0,191.9 70.1,193.6 72.2,194.4 80.5,197.7 87.9,197.7 92.0,197.7 96.1,197.7 103.5,197.7 111.8,194.4 113.9,193.6 115.0,191.9 119.1,185.3 115.0,178.7 113.9,177.0 111.8,176.1 103.5,172.8 96.1,172.8 92.0,172.8 87.9,172.8 80.5,172.8ZM48.7,267.7 46.8,268.4 46.0,269.4 40.0,276.9 39.7,281.0 39.1,286.0 38.3,292.1 38.1,295.2 38.1,298.1 38.1,304.3 38.1,310.6 38.1,313.5 41.8,319.3 42.5,322.6 43.0,325.0 46.0,326.0 53.3,328.5 57.5,330.7 68.6,322.6 68.8,322.5 69.0,322.1 72.8,313.5 75.1,309.2 80.5,306.2 85.9,304.3 90.2,302.9 92.0,300.7 96.7,295.2 92.0,289.6 90.2,287.5 85.9,286.0 80.5,284.2 75.1,281.2 72.8,276.9 69.0,270.7 67.7,268.7 65.2,267.7 57.5,264.6Z"/>
<path fill="rgb(229,247,2)" d="M126.5,262.2 117.3,265.9 115.0,265.9 112.7,265.9 112.7,267.7 112.7,269.5 108.1,276.9 110.3,282.3 109.0,286.0 106.6,292.7 115.0,293.8 126.5,295.2 115.0,296.4 106.2,297.3 108.5,304.3 109.8,308.4 107.7,313.5 107.9,317.0 107.9,322.6 107.9,328.3 108.1,331.8 107.9,335.3 107.9,340.9 107.9,346.6 107.7,350.1 103.5,350.1 92.0,350.1 80.5,350.1 75.9,350.1 73.7,344.7 73.7,340.9 73.7,337.2 69.0,333.2 67.4,331.8 69.0,330.7 74.6,327.1 74.6,322.6 74.6,318.2 76.7,313.5 77.8,311.3 80.5,309.8 88.5,307.1 92.0,307.1 95.5,307.1 96.7,304.3 99.3,298.5 102.1,295.2 99.3,291.8 96.7,286.0 95.5,283.2 92.0,283.2 88.5,283.2 80.5,280.5 77.8,279.0 76.7,276.9 72.8,270.7 72.8,267.7 72.8,264.6 69.0,264.6 65.2,264.6 57.5,261.6 50.7,264.0 46.0,264.0 41.3,264.0 40.0,267.7 37.6,274.4 35.6,276.9 35.5,277.7 34.5,286.0 34.5,276.9 34.5,267.7 34.5,258.5 34.5,249.4 34.5,240.2 34.5,231.1 34.5,221.9 34.5,212.8 34.5,203.6 34.5,194.4 34.5,185.3 34.5,176.1 34.5,167.0 34.5,157.8 34.5,148.7 34.5,139.5 34.5,130.3 34.5,121.2 34.5,115.7 35.8,121.2 37.3,128.1 46.0,128.1 54.7,128.1 57.5,129.1 60.6,127.9 69.0,127.9 77.4,127.9 77.4,121.2 77.4,114.5 79.0,112.0 79.4,111.2 80.5,111.3 81.4,111.3 92.0,111.3 102.6,111.3 103.5,111.3 104.4,111.3 115.0,112.0 109.1,116.5 109.1,121.2 109.1,125.9 107.2,130.3 110.9,136.2 110.9,139.5 110.9,142.8 115.0,142.8 119.1,142.8 126.5,145.7 126.5,148.7 126.5,157.8 126.5,167.0 126.5,176.1 126.5,185.3 126.5,194.4 126.5,203.6 126.5,212.8 126.5,221.9 126.5,231.1 126.5,240.2 126.5,249.4 126.5,258.5ZM34.5,322.6 36.2,330.4 40.2,331.8 36.7,333.5 36.7,340.9 36.7,348.4 35.9,350.1 34.5,350.1 34.5,340.9 34.5,331.8ZM34.5,90.7 36.4,92.2 39.1,93.7 35.8,94.8 34.9,102.9 34.5,105.9 34.5,102.9 34.5,93.7ZM64.9,172.8 64.9,176.1 64.9,179.4 61.2,185.3 64.9,191.1 64.9,194.4 64.9,197.7 69.0,197.7 73.1,197.7 80.5,200.7 84.2,200.7 92.0,200.7 99.8,200.7 103.5,200.7 110.9,197.7 115.0,197.7 119.1,197.7 119.1,194.4 119.1,191.1 122.8,185.3 119.1,179.4 119.1,176.1 119.1,172.8 115.0,172.8 110.9,172.8 103.5,169.9 99.8,169.9 92.0,169.9 84.2,169.9 80.5,169.9 73.1,172.8 69.0,172.8Z"/>
<path fill="rgb(255,255,0)" d="M126.5,258.5 126.5,258.5 115.0,258.5 103.5,258.5 103.5,267.7 103.5,276.8 103.5,276.9 103.5,276.9 103.5,276.9 103.5,276.9 92.0,276.9 80.5,276.9 80.5,276.9 80.5,276.9 80.5,276.9 80.5,276.8 80.5,267.7 80.5,258.5 69.0,258.5 57.5,258.5 57.5,258.5 57.5,258.5 46.0,258.5 34.5,258.5 34.5,258.5 34.5,258.5 34.5,249.4 34.5,240.2 34.5,231.1 34.5,221.9 34.5,212.8 34.5,203.6 34.5,194.4 34.5,185.3 34.5,176.1 34.5,167.0 34.5,157.8 34.5,148.7 34.5,139.5 34.5,130.3 34.5,130.3 34.5,130.3 46.0,130.3 57.5,130.3 57.5,130.3 57.5,130.3 69.0,130.3 80.5,130.3 80.5,121.2 80.5,112.0 80.5,112.0 80.5,112.0 80.5,112.0 80.5,112.0 92.0,112.0 103.5,112.0 103.5,112.0 103.5,112.0 103.5,112.0 103.5,112.0 103.5,121.2 103.5,130.3 103.5,130.3 103.5,130.4 103.5,139.5 103.5,148.7 115.0,148.7 126.5,148.7 126.5,148.7 126.5,148.7 126.5,157.8 126.5,167.0 126.5,176.1 126.5,185.3 126.5,194.4 126.5,203.6 126.5,212.8 126.5,221.9 126.5,231.1 126.5,240.2 126.5,249.4 126.5,258.5ZM80.5,350.1 80.5,350.1 80.5,340.9 80.5,331.8 80.5,331.8 80.5,331.8 80.5,322.6 80.5,313.5 80.5,313.5 80.5,313.5 80.5,313.5 80.5,313.5 92.0,313.5 103.5,313.5 103.5,313.5 103.5,313.5 103.5,313.5 103.5,313.5 103.5,322.6 103.5,331.8 103.5,331.8 103.5,331.8 103.5,340.9 103.5,350.1 103.5,350.1 103.5,350.1 92.0,350.1 80.5,350.1ZM57.5,167.0 57.5,176.1 57.5,185.3 57.5,185.3 57.5,185.3 57.5,194.4 57.5,203.6 69.0,203.6 80.5,203.6 80.5,203.6 80.5,203.6 92.0,203.6 103.5,203.6 103.5,203.6 103.5,203.6 115.0,203.6 126.5,203.6 126.5,194.4 126.5,185.3 126.5,185.3 126.5,185.3 126.5,176.1 126.5,167.0 115.0,167.0 103.5,167.0 103.5,167.0 103.5,167.0 92.0,167.0 80.5,167.0 80.5,167.0 80.5,167.0 69.0,167.0Z"/>
<path d="M34.5,56.6V350.6M57.5,56.6V350.6M80.5,56.6V350.6M103.5,56.6V350.6M126.5,56.6V350.6M34.0,57.1H127.0M34.0,75.4H127.0M34.0,93.7H127.0M34.0,112.0H127.0M34.0,130.3H127.0M34.0,148.7H127.0M34.0,167.0H127.0M34.0,185.3H127.0M34.0,203.6H127.0M34.0,221.9H127.0M34.0,240.2H127.0M34.0,258.5H127.0M34.0,276.9H127.0M34.0,295.2H127.0M34.0,313.5H127.0M34.0,331.8H127.0M34.0,350.1H127.0" stroke="#000" stroke-width="1.0" fill="none" opacity="0.7"/></g>
<g fill-rule="evenodd" clip-path="url(#clipB)"><rect x="178.5" y="54.2" width="84.0" height="295.4" fill="rgb(0,87,0)"/>
<path fill="rgb(0,98,0)" d="M262.5,152.7 257.2,151.1 252.0,146.5 243.6,144.7 241.5,142.8 240.4,145.6 236.2,146.5 231.0,152.7 229.5,154.4 225.8,155.7 220.5,157.6 216.3,155.7 212.1,153.9 210.0,150.2 207.9,146.5 201.8,144.5 201.8,137.3 201.8,130.0 200.8,128.1 200.6,127.1 200.6,118.8 200.6,110.6 200.5,109.6 201.1,108.2 199.5,105.7 194.5,105.2 189.0,105.2 183.5,105.2 178.5,104.5 178.5,100.4 178.5,91.1 178.5,81.9 178.5,72.7 178.5,63.4 178.5,59.1 183.4,58.5 189.0,58.5 194.6,58.5 199.5,58.1 208.4,62.1 210.0,62.1 211.6,62.1 211.6,63.4 211.6,64.8 216.0,72.7 216.1,76.5 216.1,81.9 216.1,87.2 216.1,91.1 218.9,92.6 220.5,92.0 222.4,92.8 231.0,92.8 239.6,92.8 240.4,100.4 241.5,109.6 242.2,100.4 242.8,92.3 252.0,92.3 261.2,92.3 262.5,91.7 262.5,100.4 262.5,109.6 262.5,118.8 262.5,128.1 262.5,137.3 262.5,146.5ZM262.5,312.2 261.4,311.7 252.0,311.3 243.5,310.9 242.6,303.4 241.5,294.2 239.6,285.0 238.3,278.6 238.0,275.8 238.5,273.1 241.5,266.5 242.1,257.8 242.0,257.3 242.1,256.8 241.5,252.0 238.3,248.1 235.3,244.3 232.8,238.8 231.0,238.4 222.9,236.7 220.5,233.0 214.5,229.6 211.8,228.1 210.0,224.6 207.9,220.4 210.0,213.3 210.5,211.6 210.9,211.1 212.9,208.6 217.0,201.9 218.2,199.8 220.5,198.8 222.3,192.7 224.0,186.5 231.0,185.0 238.0,183.4 239.2,181.4 241.5,180.4 242.1,174.2 242.8,166.2 252.0,166.2 261.2,166.2 262.5,165.6 262.5,174.2 262.5,183.4 262.5,192.7 262.5,201.9 262.5,211.1 262.5,220.4 262.5,229.6 262.5,238.8 262.5,248.1 262.5,257.3 262.5,266.5 262.5,275.8 262.5,285.0 262.5,294.2 262.5,303.4ZM178.5,251.1 183.2,253.2 185.5,257.3 189.0,258.1 196.6,259.8 196.6,266.5 196.6,273.2 197.9,275.8 196.3,278.6 196.3,285.0 196.3,291.4 189.0,291.4 181.7,291.4 178.5,292.8 178.5,285.0 178.5,275.8 178.5,266.5 178.5,257.3Z"/>
<path fill="rgb(0,108,0)" d="M262.5,144.8 259.0,143.4 252.0,141.9 247.8,141.0 243.6,137.3 241.5,135.4 240.8,137.3 238.3,143.7 231.0,145.4 225.8,146.5 223.5,149.2 220.5,150.2 217.7,149.0 216.3,146.5 210.0,144.5 204.0,142.5 204.0,137.3 204.0,132.0 202.1,128.1 201.8,126.1 201.8,118.8 201.8,111.6 201.5,109.6 202.8,106.7 199.5,101.9 189.5,100.8 189.0,100.8 188.5,100.8 185.5,100.4 178.5,99.3 178.5,91.1 178.5,81.9 178.5,72.7 178.5,63.9 183.2,63.4 188.4,62.9 189.0,62.9 189.6,62.9 199.5,62.1 202.6,63.4 207.5,65.6 210.0,69.9 211.6,72.7 211.7,80.4 211.7,81.9 211.7,83.4 211.8,91.1 217.2,94.0 220.5,92.9 224.3,94.5 231.0,94.5 237.7,94.5 238.3,100.4 239.2,107.5 240.4,109.6 240.4,110.6 241.5,118.8 242.6,110.6 242.2,109.6 243.0,108.2 243.6,100.4 244.2,93.5 252.0,93.5 259.8,93.5 262.5,92.3 262.5,100.4 262.5,109.6 262.5,118.8 262.5,128.1 262.5,137.3ZM262.5,311.2 259.1,309.7 252.0,309.4 245.6,309.1 244.9,303.4 244.0,296.5 242.7,294.2 243.2,292.7 243.1,285.0 242.9,277.0 244.3,275.8 244.0,273.5 244.5,266.5 244.9,260.2 244.6,257.3 245.0,254.3 244.2,248.1 243.3,240.4 243.6,238.8 242.6,237.9 241.5,237.6 238.6,236.3 231.0,234.6 226.4,233.6 223.8,229.6 220.5,224.6 217.6,222.9 216.3,220.4 217.2,217.4 220.5,213.3 220.9,211.1 222.4,203.6 222.5,201.9 225.2,197.7 226.7,192.7 227.6,189.6 231.0,188.9 236.8,187.6 241.5,185.2 242.2,184.1 242.1,183.4 242.8,182.3 243.5,174.2 244.2,167.3 252.0,167.3 259.8,167.3 262.5,166.2 262.5,174.2 262.5,183.4 262.5,192.7 262.5,201.9 262.5,211.1 262.5,220.4 262.5,229.6 262.5,238.8 262.5,248.1 262.5,257.3 262.5,266.5 262.5,275.8 262.5,285.0 262.5,294.2 262.5,303.4ZM178.5,258.1 181.0,259.5 189.0,261.3 193.7,262.4 193.7,266.5 193.7,270.7 196.3,275.8 193.0,281.4 193.0,285.0 193.0,288.5 189.0,288.5 185.0,288.5 178.5,291.4 178.5,285.0 178.5,275.8 178.5,266.5Z"/>
<path fill="rgb(0,133,0)" d="M262.5,141.5 252.0,137.3 241.5,128.1 242.8,118.8 243.7,111.6 242.9,109.6 244.6,106.9 245.1,100.4 245.5,94.6 252.0,94.6 258.5,94.6 262.5,92.9 262.5,100.4 262.5,109.6 262.5,118.8 262.5,128.1 262.5,137.3ZM262.5,310.2 256.8,307.7 252.0,307.5 247.6,307.3 247.2,303.4 246.6,298.7 243.8,294.2 244.9,291.2 244.8,285.0 244.7,278.6 247.8,275.8 247.1,270.8 247.4,266.5 247.7,262.7 247.1,257.3 247.8,251.7 247.4,248.1 246.8,243.5 247.8,238.8 244.8,235.9 241.5,235.1 232.9,231.2 231.0,230.8 229.9,230.6 229.2,229.6 226.9,226.0 222.1,220.4 222.2,218.8 223.8,211.1 224.8,205.7 225.1,201.9 231.0,192.8 231.0,192.7 231.1,192.7 241.5,187.4 243.2,184.9 242.8,183.4 244.4,180.9 245.0,174.2 245.5,168.5 252.0,168.5 258.5,168.5 262.5,166.8 262.5,174.2 262.5,183.4 262.5,192.7 262.5,201.9 262.5,211.1 262.5,220.4 262.5,229.6 262.5,238.8 262.5,248.1 262.5,257.3 262.5,266.5 262.5,275.8 262.5,285.0 262.5,294.2 262.5,303.4ZM178.5,259.7 185.9,263.8 189.0,264.5 190.8,264.9 190.8,266.5 190.8,268.1 194.7,275.8 189.8,284.3 189.8,285.0 189.8,285.7 189.0,285.7 188.2,285.7 178.5,290.0 178.5,285.0 178.5,275.8 178.5,266.5ZM178.5,68.8 183.5,68.3 189.0,67.2 192.6,66.6 199.5,66.0 204.6,68.2 207.1,72.7 207.2,79.4 207.2,81.9 207.3,84.3 207.4,91.1 210.0,92.5 215.6,95.4 220.5,93.8 226.2,96.2 231.0,96.2 235.8,96.2 236.2,100.4 236.8,105.5 239.4,109.6 239.2,111.6 240.2,118.8 241.5,128.1 238.0,137.3 236.2,141.9 231.0,143.1 222.2,145.0 220.5,145.8 218.0,144.3 210.0,141.7 206.3,140.5 206.3,137.3 206.3,134.0 203.4,128.1 202.9,125.1 202.9,118.8 202.9,112.6 202.5,109.6 204.4,105.3 201.1,100.4 199.5,98.0 192.5,97.3 189.0,96.4 182.7,94.8 178.5,94.2 178.5,91.1 178.5,81.9 178.5,72.7Z"/>
<path fill="rgb(0,158,0)" d="M262.5,138.1 260.4,137.3 254.6,135.0 252.0,132.7 246.8,128.1 242.9,126.8 244.0,118.8 244.9,112.5 243.6,109.6 246.1,105.6 246.5,100.4 246.8,95.8 252.0,95.8 257.2,95.8 262.5,93.5 262.5,100.4 262.5,109.6 262.5,118.8 262.5,128.1 262.5,137.3ZM262.5,309.2 254.6,305.7 252.0,305.6 249.7,305.5 249.4,303.4 249.1,300.9 245.0,294.2 246.7,289.7 246.6,285.0 246.5,280.1 251.3,275.8 250.3,268.0 250.4,266.5 250.5,265.2 249.7,257.3 250.7,249.2 250.6,248.1 250.4,246.6 252.0,238.8 247.0,234.0 241.5,232.7 234.7,229.6 232.2,228.5 231.0,227.0 225.3,220.4 225.7,215.8 226.6,211.1 227.3,207.8 227.6,201.9 231.0,196.7 232.6,194.1 235.5,192.7 241.5,189.7 244.1,185.7 243.5,183.4 246.0,179.5 246.5,174.2 246.9,169.7 252.0,169.7 257.1,169.7 262.5,167.4 262.5,174.2 262.5,183.4 262.5,192.7 262.5,201.9 262.5,211.1 262.5,220.4 262.5,229.6 262.5,238.8 262.5,248.1 262.5,257.3 262.5,266.5 262.5,275.8 262.5,285.0 262.5,294.2 262.5,303.4ZM178.5,261.3 187.9,266.5 188.6,266.9 189.0,267.7 193.0,275.8 189.0,282.9 188.2,284.3 186.6,285.0 178.5,288.5 178.5,285.0 178.5,275.8 178.5,266.5ZM199.5,69.9 201.6,70.8 202.6,72.7 202.7,75.4 202.8,81.9 203.0,88.1 203.0,91.1 210.0,94.8 214.0,96.8 220.5,94.6 228.1,97.8 231.0,97.8 233.9,97.8 234.2,100.4 234.5,103.4 238.3,109.6 238.1,112.6 239.0,118.8 240.1,126.8 239.9,128.1 237.3,131.7 235.2,137.3 234.2,140.1 231.0,140.7 225.8,141.9 220.5,144.5 213.1,140.0 210.0,139.0 208.6,138.5 208.6,137.3 208.6,136.0 204.8,128.1 204.0,124.1 204.0,118.8 204.0,113.6 203.5,109.6 206.0,103.9 203.6,100.4 199.5,94.2 196.4,93.9 189.0,92.0 185.5,91.1 185.2,85.2 184.5,81.9 183.4,77.0 183.2,72.7 189.0,71.6 196.6,70.2Z"/>
<path fill="rgb(0,200,5)" d="M262.5,134.8 257.2,132.7 252.0,128.1 244.3,125.5 245.3,118.8 246.0,113.5 244.3,109.6 247.6,104.2 247.9,100.4 248.2,97.0 252.0,97.0 255.8,97.0 262.5,94.2 262.5,100.4 262.5,109.6 262.5,118.8 262.5,128.1ZM262.5,308.2 252.3,303.7 252.0,303.7 251.7,303.7 251.7,303.4 251.7,303.2 246.2,294.2 248.4,288.2 248.3,285.0 248.3,281.7 252.0,278.3 254.8,275.8 253.8,268.1 253.3,266.5 253.1,265.6 252.3,257.3 253.3,249.2 253.8,248.1 254.8,245.6 256.2,238.8 252.0,234.7 249.2,232.0 241.5,230.2 240.1,229.6 234.1,226.9 231.0,223.2 228.6,220.4 229.1,212.8 229.4,211.1 229.7,210.0 230.1,201.9 231.0,200.5 234.3,195.5 240.0,192.7 241.5,191.9 245.1,186.6 244.3,183.4 247.5,178.1 247.9,174.2 248.2,170.9 252.0,170.9 255.8,170.9 262.5,168.1 262.5,174.2 262.5,183.4 262.5,192.7 262.5,201.9 262.5,211.1 262.5,220.4 262.5,229.6 262.5,238.8 262.5,248.1 262.5,257.3 262.5,266.5 262.5,275.8 262.5,285.0 262.5,294.2 262.5,303.4ZM178.5,262.9 185.0,266.5 187.5,267.9 189.0,270.9 191.4,275.8 189.0,280.0 187.1,283.3 183.3,285.0 178.5,287.1 178.5,285.0 178.5,275.8 178.5,266.5ZM210.0,97.1 212.4,98.3 220.5,95.5 230.0,99.5 231.0,99.5 232.0,99.5 232.1,100.4 232.2,101.4 237.3,109.6 237.0,113.6 237.7,118.8 238.6,125.5 238.3,128.1 233.1,135.4 232.4,137.3 232.1,138.2 231.0,138.4 229.2,138.8 220.5,143.1 210.9,137.3 210.3,137.0 210.0,136.3 206.1,128.1 205.2,123.1 205.2,118.8 205.2,114.6 204.5,109.6 207.6,102.4 206.2,100.4 200.8,92.2Z"/>
<path fill="rgb(2,213,7)" d="M262.5,131.4 259.9,130.4 257.2,128.1 252.0,126.3 245.8,124.3 246.5,118.8 247.1,114.5 245.1,109.6 249.1,102.9 249.3,100.4 249.5,98.2 252.0,98.2 254.5,98.2 262.5,94.8 262.5,100.4 262.5,109.6 262.5,118.8 262.5,128.1ZM262.5,307.2 254.0,303.4 252.7,302.9 252.0,301.8 247.3,294.2 250.1,286.6 250.1,285.0 250.0,283.3 252.0,281.5 258.3,275.8 257.7,271.6 256.3,266.5 255.4,263.5 254.8,257.3 255.6,251.2 256.9,248.1 259.9,241.1 260.4,238.8 252.0,230.6 251.4,230.1 249.4,229.6 241.5,227.7 235.9,225.2 231.8,220.4 232.4,212.3 232.3,211.1 232.2,210.1 232.6,201.9 235.9,196.9 241.5,194.1 242.5,192.7 246.0,187.4 245.0,183.4 249.1,176.7 249.4,174.2 249.6,172.1 252.0,172.1 254.4,172.1 262.5,168.7 262.5,174.2 262.5,183.4 262.5,192.7 262.5,201.9 262.5,211.1 262.5,220.4 262.5,229.6 262.5,238.8 262.5,248.1 262.5,257.3 262.5,266.5 262.5,275.8 262.5,285.0 262.5,294.2 262.5,303.4ZM178.5,264.5 182.1,266.5 186.3,268.9 189.0,274.1 189.8,275.8 189.0,277.2 186.0,282.4 180.1,285.0 178.5,285.7 178.5,285.0 178.5,275.8 178.5,266.5ZM210.0,99.3 210.7,99.7 220.5,96.4 229.9,100.4 230.7,100.7 231.0,101.2 236.2,109.6 235.8,114.6 236.4,118.8 237.2,124.2 236.7,128.1 231.0,136.1 230.5,136.8 229.6,137.3 220.5,141.7 213.1,137.3 211.3,136.2 210.0,133.5 207.4,128.1 206.3,122.1 206.3,118.8 206.3,115.6 205.5,109.6 209.3,101.0 208.8,100.4 207.1,97.8Z"/>
<path fill="rgb(4,226,9)" d="M262.5,128.0 252.0,124.6 247.2,123.0 247.8,118.8 248.2,115.5 245.8,109.6 250.7,101.5 250.8,100.4 250.8,99.3 252.0,99.3 253.2,99.3 262.5,95.4 262.5,100.4 262.5,109.6 262.5,118.8ZM262.5,232.7 259.9,229.6 256.5,225.6 252.0,226.5 249.1,227.1 241.5,225.3 237.8,223.6 235.0,220.4 235.4,215.0 235.1,211.1 234.9,207.7 235.2,201.9 237.5,198.4 241.5,196.3 243.9,192.7 246.9,188.2 245.7,183.4 250.7,175.3 250.8,174.2 250.9,173.3 252.0,173.3 253.1,173.3 262.5,169.3 262.5,174.2 262.5,183.4 262.5,192.7 262.5,201.9 262.5,211.1 262.5,220.4 262.5,229.6ZM262.5,306.2 256.3,303.4 253.4,302.2 252.0,299.9 248.5,294.2 251.8,285.1 251.8,285.0 251.8,284.8 252.0,284.7 261.8,275.8 261.7,275.1 259.2,266.5 257.8,261.4 257.4,257.3 257.9,253.2 260.1,248.1 262.5,242.5 262.5,248.1 262.5,257.3 262.5,266.5 262.5,275.8 262.5,285.0 262.5,294.2 262.5,303.4ZM178.5,266.1 179.2,266.5 185.2,269.8 188.2,275.8 185.0,281.4 178.5,284.3 178.5,275.8 178.5,266.5ZM220.5,97.3 227.8,100.4 230.0,101.2 231.0,102.9 235.2,109.6 234.7,115.6 235.1,118.8 235.7,123.0 235.0,128.1 231.0,133.8 229.5,136.0 226.8,137.3 220.5,140.4 215.4,137.3 212.2,135.4 210.0,130.8 208.7,128.1 207.4,121.1 207.4,118.8 207.4,116.6 206.5,109.6 210.0,101.6 210.4,100.7 211.4,100.4Z"/>
<path fill="rgb(7,233,12)" d="M262.5,127.3 259.4,125.3 252.0,122.9 248.6,121.8 249.0,118.8 249.3,116.5 246.5,109.6 252.0,100.5 252.1,100.4 252.2,100.4 262.5,96.0 262.5,100.4 262.5,109.6 262.5,118.8ZM262.5,220.4 252.0,222.4 245.3,223.7 241.5,222.8 239.6,222.0 238.3,220.4 238.5,217.7 238.0,211.1 237.5,205.4 237.7,201.9 239.1,199.8 241.5,198.6 245.4,192.7 247.9,189.0 246.5,183.4 252.0,174.4 252.1,174.3 252.3,174.2 262.5,169.9 262.5,174.2 262.5,183.4 262.5,192.7 262.5,201.9 262.5,211.1ZM262.5,267.5 262.2,266.5 260.1,259.4 259.9,257.3 260.2,255.3 262.5,249.9 262.5,257.3 262.5,266.5ZM262.5,305.2 258.5,303.4 254.2,301.5 252.0,298.0 249.7,294.2 252.0,287.8 252.8,285.7 253.6,285.0 262.5,277.0 262.5,285.0 262.5,294.2 262.5,303.4ZM178.5,267.7 184.1,270.8 186.6,275.8 183.9,280.5 178.5,282.9 178.5,275.8ZM220.5,98.2 225.8,100.4 229.3,101.8 231.0,104.6 234.2,109.6 233.6,116.6 233.9,118.8 234.3,121.7 233.4,128.1 231.0,131.5 228.5,135.1 224.0,137.3 220.5,139.0 217.7,137.3 213.1,134.5 210.0,128.1 208.6,120.1 208.6,118.8 208.6,117.6 207.5,109.6 210.0,103.9 211.1,101.3 214.0,100.4Z"/>
<path fill="rgb(11,236,15)" d="M262.5,126.5 256.3,122.6 252.0,121.2 250.0,120.5 250.3,118.8 250.5,117.5 247.2,109.6 252.0,101.7 252.5,100.8 253.6,100.4 262.5,96.6 262.5,100.4 262.5,109.6 262.5,118.8ZM262.5,201.9 252.0,208.1 249.9,209.3 248.5,211.1 241.5,220.4 240.8,211.1 240.2,203.1 240.2,201.9 240.7,201.2 241.5,200.8 246.9,192.7 248.8,189.9 247.2,183.4 252.0,175.6 252.6,174.7 253.8,174.2 262.5,170.5 262.5,174.2 262.5,183.4 262.5,192.7ZM262.5,304.2 260.8,303.4 254.9,300.9 252.0,296.1 250.8,294.2 252.0,291.0 253.7,286.5 255.3,285.0 262.5,278.6 262.5,285.0 262.5,294.2 262.5,303.4ZM178.5,269.3 183.0,271.8 185.0,275.8 182.8,279.5 178.5,281.4 178.5,275.8ZM220.5,99.0 223.7,100.4 228.6,102.4 231.0,106.2 233.1,109.6 232.4,117.6 232.6,118.8 232.8,120.4 231.8,128.1 231.0,129.2 227.5,134.2 221.2,137.3 220.5,137.6 219.9,137.3 214.0,133.7 211.3,128.1 210.0,120.7 209.7,119.1 209.7,118.8 209.7,118.6 208.5,109.6 210.0,106.2 211.8,102.0 216.6,100.4Z"/>
<path fill="rgb(15,238,18)" d="M262.5,125.7 253.2,119.8 252.0,119.5 251.5,119.3 251.5,118.8 251.6,118.4 247.9,109.6 252.0,102.8 253.0,101.2 255.0,100.4 262.5,97.2 262.5,100.4 262.5,109.6 262.5,118.8ZM262.5,201.0 259.4,199.2 252.0,199.7 243.3,200.3 248.4,192.7 249.7,190.7 247.9,183.4 252.0,176.8 253.0,175.1 255.2,174.2 262.5,171.1 262.5,174.2 262.5,183.4 262.5,192.7ZM262.5,303.2 255.7,300.2 252.0,294.2 254.6,287.2 257.1,285.0 262.5,280.1 262.5,285.0 262.5,294.2ZM178.5,270.9 181.9,272.8 183.3,275.8 181.7,278.6 178.5,280.0 178.5,275.8ZM220.5,99.9 221.6,100.4 228.0,103.0 231.0,107.9 232.1,109.6 231.3,118.6 231.3,118.8 231.4,119.1 231.0,121.9 230.2,128.1 226.5,133.3 220.5,136.3 215.0,132.9 212.6,128.1 211.2,119.8 210.9,118.8 210.7,118.2 210.0,113.3 209.5,109.6 210.0,108.4 212.6,102.6 219.2,100.4Z"/>
<path fill="rgb(11,223,14)" d="M262.5,124.9 252.8,118.8 252.3,118.5 252.0,117.7 248.6,109.6 252.0,104.0 253.5,101.6 256.4,100.4 262.5,97.8 262.5,100.4 262.5,109.6 262.5,118.8ZM262.5,200.1 256.4,196.5 252.0,196.8 246.9,197.2 249.9,192.7 250.7,191.5 248.6,183.4 252.0,178.0 253.5,175.5 256.7,174.2 262.5,171.7 262.5,174.2 262.5,183.4 262.5,192.7ZM262.5,302.2 256.4,299.5 253.2,294.2 255.4,288.0 258.8,285.0 262.5,281.7 262.5,285.0 262.5,294.2ZM178.5,272.5 180.7,273.8 181.7,275.8 180.7,277.6 178.5,278.6 178.5,275.8ZM220.5,100.8 227.3,103.6 231.0,109.6 230.3,118.2 230.0,118.8 229.6,120.0 228.6,128.1 225.5,132.4 220.5,134.9 215.9,132.1 213.9,128.1 212.7,121.2 212.0,118.8 211.6,117.4 210.5,109.6 213.3,103.2Z"/>
<path fill="rgb(7,208,10)" d="M262.5,124.1 254.0,118.8 252.8,118.1 252.0,116.0 249.3,109.6 252.0,105.2 253.9,102.0 257.9,100.4 262.5,98.4 262.5,100.4 262.5,109.6 262.5,118.8ZM262.5,199.3 253.3,193.8 252.0,193.9 250.5,194.0 251.4,192.7 251.6,192.3 249.4,183.4 252.0,179.2 254.0,176.0 258.1,174.2 262.5,172.4 262.5,174.2 262.5,183.4 262.5,192.7ZM262.5,301.2 257.2,298.9 254.3,294.2 256.3,288.8 260.6,285.0 262.5,283.3 262.5,285.0 262.5,294.2ZM178.5,274.1 179.6,274.8 180.1,275.8 179.6,276.7 178.5,277.2 178.5,275.8ZM220.5,101.7 226.6,104.2 229.9,109.6 229.3,117.3 228.8,118.8 227.8,121.6 227.0,128.1 224.5,131.6 220.5,133.5 216.8,131.3 215.2,128.1 214.3,122.6 213.1,118.8 212.5,116.7 211.5,109.6 214.0,103.9Z"/>
<path fill="rgb(4,189,6)" d="M262.5,123.3 255.3,118.8 253.4,117.6 252.0,114.3 250.0,109.6 252.0,106.4 254.4,102.4 259.3,100.4 262.5,99.0 262.5,100.4 262.5,109.6 262.5,118.8ZM262.5,198.4 252.9,192.7 252.3,192.4 252.0,191.0 250.1,183.4 252.0,180.4 254.5,176.4 259.6,174.2 262.5,173.0 262.5,174.2 262.5,183.4 262.5,192.7ZM262.5,300.2 258.0,298.2 255.5,294.2 257.2,289.6 262.3,285.0 262.5,284.8 262.5,285.0 262.5,294.2ZM220.5,102.6 225.9,104.8 228.9,109.6 228.3,116.5 227.5,118.8 226.0,123.2 225.3,128.1 223.5,130.7 220.5,132.2 217.7,130.5 216.6,128.1 215.8,123.9 214.3,118.8 213.4,115.9 212.5,109.6 214.7,104.5Z"/>
<path fill="rgb(2,167,3)" d="M262.5,122.6 256.5,118.8 253.9,117.2 252.0,112.6 250.8,109.6 252.0,107.5 254.8,102.9 260.7,100.4 262.5,99.6 262.5,100.4 262.5,109.6 262.5,118.8ZM262.5,197.5 254.3,192.7 252.9,191.8 252.0,188.1 250.8,183.4 252.0,181.5 254.9,176.8 261.0,174.2 262.5,173.6 262.5,174.2 262.5,183.4 262.5,192.7ZM262.5,299.2 258.7,297.5 256.7,294.2 258.1,290.3 262.5,286.4 262.5,294.2ZM220.5,103.4 225.2,105.4 227.8,109.6 227.3,115.6 226.2,118.8 224.2,124.8 223.7,128.1 222.5,129.8 220.5,130.8 218.7,129.7 217.9,128.1 217.4,125.3 215.4,118.8 214.2,115.1 213.5,109.6 215.4,105.1Z"/>
<path fill="rgb(0,145,0)" d="M262.5,121.8 257.8,118.8 254.4,116.7 252.0,110.9 251.5,109.6 252.0,108.7 255.3,103.3 262.1,100.4 262.5,100.2 262.5,100.4 262.5,109.6 262.5,118.8ZM262.5,196.6 255.8,192.7 253.5,191.3 252.0,185.2 251.6,183.4 252.0,182.7 255.4,177.2 262.5,174.2 262.5,183.4 262.5,192.7ZM262.5,298.2 259.5,296.9 257.8,294.2 259.0,291.1 262.5,288.0 262.5,294.2ZM220.5,104.3 224.6,106.0 226.8,109.6 226.4,114.7 225.0,118.8 222.3,126.4 222.1,128.1 221.5,128.9 220.5,129.4 219.6,128.9 219.2,128.1 218.9,126.7 216.5,118.8 215.1,114.3 214.5,109.6 216.2,105.8Z"/>
<path fill="rgb(30,160,4)" d="M262.5,121.0 259.1,118.8 254.9,116.2 252.2,109.6 255.8,103.7 262.5,100.8 262.5,109.6 262.5,118.8ZM262.5,195.7 257.3,192.7 254.1,190.8 252.3,183.4 255.9,177.6 262.5,174.8 262.5,183.4 262.5,192.7ZM262.5,297.2 260.2,296.2 259.0,294.2 259.9,291.9 262.5,289.5 262.5,294.2ZM220.5,105.2 223.9,106.6 225.8,109.6 225.4,113.9 223.7,118.8 220.5,128.1 217.7,118.8 216.0,113.5 215.5,109.6 216.9,106.4Z"/>
<path fill="rgb(60,175,8)" d="M262.5,120.2 260.3,118.8 255.5,115.8 252.9,109.6 256.2,104.1 262.5,101.4 262.5,109.6 262.5,118.8ZM262.5,194.9 258.8,192.7 254.7,190.3 253.0,183.4 256.4,178.0 262.5,175.4 262.5,183.4 262.5,192.7ZM262.5,296.2 261.0,295.5 260.2,294.2 260.7,292.7 262.5,291.1 262.5,294.2ZM220.5,106.1 223.2,107.2 224.7,109.6 224.4,113.0 222.4,118.8 220.5,124.4 218.8,118.8 216.9,112.7 216.5,109.6 217.6,107.0Z"/>
<path fill="rgb(90,190,12)" d="M262.5,119.4 261.6,118.8 256.0,115.3 253.6,109.6 256.7,104.5 262.5,102.0 262.5,109.6 262.5,118.8ZM262.5,194.0 260.3,192.7 255.3,189.7 253.8,183.4 256.8,178.4 262.5,176.1 262.5,183.4 262.5,192.7ZM262.5,295.2 261.7,294.9 261.3,294.2 261.6,293.4 262.5,292.6 262.5,294.2ZM220.5,107.0 222.5,107.8 223.7,109.6 223.4,112.2 221.1,118.8 220.5,120.7 219.9,118.8 217.8,111.9 217.5,109.6 218.3,107.7Z"/>
<path fill="rgb(120,205,16)" d="M262.5,118.6 256.5,114.9 254.3,109.6 257.2,104.9 262.5,102.6 262.5,109.6ZM262.5,193.1 261.8,192.7 255.9,189.2 254.5,183.4 257.3,178.9 262.5,176.7 262.5,183.4 262.5,192.7ZM220.5,107.8 221.9,108.4 222.6,109.6 222.5,111.3 220.5,117.0 218.7,111.2 218.5,109.6 219.1,108.3Z"/>
<path fill="rgb(150,220,20)" d="M262.5,117.8 257.0,114.4 255.0,109.6 257.6,105.3 262.5,103.2 262.5,109.6ZM262.5,192.2 256.5,188.7 255.2,183.4 257.8,179.3 262.5,177.3 262.5,183.4ZM220.5,108.7 221.2,109.0 221.6,109.6 221.5,110.4 220.5,113.3 219.6,110.4 219.5,109.6 219.8,109.0Z"/>
<path fill="rgb(155,222,20)" d="M262.5,117.1 257.5,113.9 255.7,109.6 258.1,105.7 262.5,103.8 262.5,109.6ZM262.5,191.4 257.1,188.2 255.9,183.4 258.2,179.7 262.5,177.9 262.5,183.4Z"/>
<path fill="rgb(160,225,20)" d="M262.5,116.3 258.1,113.5 256.4,109.6 258.6,106.1 262.5,104.4 262.5,109.6ZM262.5,190.5 257.7,187.6 256.7,183.4 258.7,180.1 262.5,178.5 262.5,183.4Z"/>
<path fill="rgb(165,227,20)" d="M262.5,115.5 258.6,113.0 257.2,109.6 259.0,106.5 262.5,105.0 262.5,109.6ZM262.5,189.6 258.3,187.1 257.4,183.4 259.2,180.5 262.5,179.1 262.5,183.4Z"/>
<path fill="rgb(170,230,20)" d="M262.5,114.7 259.1,112.6 257.9,109.6 259.5,106.9 262.5,105.7 262.5,109.6ZM262.5,188.7 258.9,186.6 258.1,183.4 259.7,180.9 262.5,179.7 262.5,183.4Z"/>
<path fill="rgb(175,232,20)" d="M262.5,113.9 259.6,112.1 258.6,109.6 259.9,107.3 262.5,106.3 262.5,109.6ZM262.5,187.8 259.5,186.1 258.9,183.4 260.1,181.4 262.5,180.4 262.5,183.4Z"/>
<path fill="rgb(158,226,20)" d="M262.5,113.1 260.2,111.7 259.3,109.6 260.4,107.8 262.5,106.9 262.5,109.6ZM262.5,187.0 260.1,185.5 259.6,183.4 260.6,181.8 262.5,181.0 262.5,183.4Z"/>
<path fill="rgb(141,219,20)" d="M262.5,112.3 260.7,111.2 260.0,109.6 260.9,108.2 262.5,107.5 262.5,109.6ZM262.5,186.1 260.7,185.0 260.3,183.4 261.1,182.2 262.5,181.6 262.5,183.4Z"/>
<path fill="rgb(124,213,20)" d="M262.5,111.6 261.2,110.7 260.7,109.6 261.3,108.6 262.5,108.1 262.5,109.6ZM262.5,185.2 261.3,184.5 261.0,183.4 261.6,182.6 262.5,182.2 262.5,183.4Z"/>
<path fill="rgb(107,206,20)" d="M262.5,110.8 261.7,110.3 261.4,109.6 261.8,109.0 262.5,108.7 262.5,109.6ZM262.5,184.3 261.9,184.0 261.8,183.4 262.0,183.0 262.5,182.8 262.5,183.4Z"/>
<path fill="rgb(90,200,20)" d="M262.5,110.0 262.2,109.8 262.1,109.6 262.3,109.4 262.5,109.3 262.5,109.6Z"/>
<path d="M178.5,53.7V350.1M199.5,53.7V350.1M220.5,53.7V350.1M241.5,53.7V350.1M262.5,53.7V350.1M178.0,54.2H263.0M178.0,72.7H263.0M178.0,91.1H263.0M178.0,109.6H263.0M178.0,128.1H263.0M178.0,146.5H263.0M178.0,165.0H263.0M178.0,183.4H263.0M178.0,201.9H263.0M178.0,220.4H263.0M178.0,238.8H263.0M178.0,257.3H263.0M178.0,275.8H263.0M178.0,294.2H263.0M178.0,312.7H263.0M178.0,331.1H263.0M178.0,349.6H263.0" stroke="#000" stroke-width="1.0" fill="none" opacity="0.7"/></g>
<g fill-rule="evenodd"><rect x="327.5" y="55.4" width="92.0" height="294.6" fill="rgb(140,44,0)"/>
<path fill="rgb(178,90,0)" d="M372.3,55.4 371.5,57.0 371.5,64.6 371.5,72.2 367.1,73.8 369.4,77.1 369.4,83.0 369.4,88.9 370.5,92.2 369.8,95.2 371.3,101.4 373.3,110.5 373.2,110.6 372.9,111.1 371.8,119.8 370.9,127.0 362.0,128.1 354.3,129.1 351.3,129.7 350.5,129.8 349.7,129.7 346.7,129.1 339.0,127.9 330.5,126.6 332.3,119.8 333.4,115.4 331.3,110.6 329.7,108.9 327.5,105.1 327.5,101.4 327.5,92.2 327.5,83.0 327.5,73.8 327.5,64.6 327.5,55.4 339.0,55.4 350.5,55.4 362.0,55.4ZM419.5,142.6 413.9,138.3 410.9,135.9 408.0,129.1 400.2,126.1 396.5,127.1 392.5,125.8 385.0,126.8 374.6,128.1 374.2,119.8 373.7,110.8 373.6,110.6 373.8,110.4 376.3,101.4 377.9,95.7 385.0,95.7 392.1,95.7 396.5,94.1 400.9,95.7 408.0,95.7 415.1,95.7 416.7,101.4 419.2,110.4 419.4,110.6 419.3,110.8 419.5,111.3 419.5,119.8 419.5,129.1 419.5,138.3ZM419.5,242.6 416.2,242.2 408.0,239.5 397.2,238.9 397.2,230.3 397.2,221.7 396.9,221.1 397.1,220.7 396.5,219.7 394.1,219.2 385.0,217.9 378.6,217.0 373.5,215.6 367.0,215.9 366.6,221.1 368.6,225.1 373.5,225.7 382.1,228.0 385.0,227.3 390.8,225.7 390.8,230.3 390.8,234.9 394.2,239.5 390.8,244.1 387.9,248.7 386.9,250.3 385.0,251.8 377.3,257.9 385.0,262.5 388.3,264.5 396.5,266.5 407.1,266.5 408.0,266.5 408.9,266.5 419.5,266.5 419.5,267.1 419.5,276.4 419.5,285.6 419.5,292.1 415.5,291.6 408.0,290.0 403.5,289.1 396.5,288.5 387.9,287.9 385.0,287.4 383.1,287.1 373.5,286.5 369.2,285.6 363.6,284.3 362.0,283.3 351.2,276.4 350.8,276.1 350.5,276.2 350.0,276.0 339.0,274.0 332.0,272.8 328.4,267.1 327.5,265.7 327.5,257.9 327.5,250.1 328.3,248.7 331.6,242.8 339.0,239.5 333.8,234.5 327.5,230.3 327.5,221.1 327.5,211.9 327.5,202.7 327.5,195.8 334.1,197.4 339.0,200.7 341.9,202.7 346.0,206.3 350.5,206.5 355.5,206.7 355.2,202.7 362.0,196.4 363.7,194.8 368.3,193.5 373.5,192.0 380.7,190.0 385.0,189.2 392.2,187.7 396.5,186.7 398.0,185.5 397.7,184.3 399.2,182.2 400.7,175.1 401.7,170.1 408.0,168.9 417.9,167.2 419.5,166.4 419.5,175.1 419.5,184.3 419.5,193.5 419.5,202.7 419.5,211.9 419.5,221.1 419.5,230.3 419.5,239.5ZM327.5,300.8 337.4,302.7 339.0,302.7 340.6,302.7 344.1,304.0 350.5,306.3 356.2,308.6 359.1,313.2 362.0,315.1 366.9,318.5 371.9,322.4 373.5,323.6 382.1,324.7 385.0,325.6 391.5,327.6 396.5,328.5 398.2,322.4 400.0,316.0 402.0,313.2 405.1,306.3 404.6,304.0 403.8,300.6 408.0,299.7 415.2,298.2 419.5,295.9 419.5,304.0 419.5,313.2 419.5,322.4 419.5,331.6 419.5,340.8 419.5,350.0 408.0,350.0 396.5,350.0 385.0,350.0 373.5,350.0 362.0,350.0 350.5,350.0 339.0,350.0 327.5,350.0 327.5,340.8 327.5,331.6 327.5,322.4 327.5,313.2 327.5,304.0Z"/>
<path fill="rgb(205,145,3)" d="M371.2,55.4 369.5,58.6 369.5,64.6 369.5,70.6 362.0,73.4 360.7,73.8 362.0,75.7 365.3,80.4 365.3,83.0 365.3,85.6 367.4,92.2 366.2,98.1 366.9,101.4 368.0,106.2 365.6,110.6 362.0,116.3 360.5,118.6 357.8,119.8 350.5,123.1 344.3,119.8 341.1,118.2 339.0,113.5 337.7,110.6 333.2,106.0 330.6,101.4 327.5,95.9 327.5,92.2 327.5,83.0 327.5,73.8 327.5,64.6 327.5,55.4 339.0,55.4 350.5,55.4 362.0,55.4ZM419.5,129.1 408.0,124.7 403.8,123.2 396.5,125.2 388.4,122.6 385.0,123.0 380.3,123.6 380.1,119.8 379.9,115.7 376.3,110.6 380.6,104.9 381.6,101.4 382.2,99.2 385.0,99.2 387.8,99.2 396.5,96.1 405.2,99.2 408.0,99.2 410.8,99.2 411.4,101.4 412.4,104.9 416.7,110.6 414.0,115.0 415.9,119.8ZM419.5,238.3 416.2,236.9 408.0,236.5 400.8,236.1 400.8,230.3 400.8,224.6 398.7,221.1 399.8,218.5 396.5,212.5 393.8,211.9 386.8,210.4 385.0,209.8 380.5,208.3 373.5,206.4 368.6,206.6 368.3,202.7 370.7,200.5 373.5,199.6 379.2,198.1 385.0,196.4 387.6,195.6 396.5,193.5 402.0,188.7 401.2,184.3 406.5,176.3 406.8,175.1 407.0,174.2 408.0,174.1 409.6,173.8 419.5,169.2 419.5,175.1 419.5,184.3 419.5,193.5 419.5,202.7 419.5,211.9 419.5,221.1 419.5,230.3ZM419.5,278.5 417.1,278.2 408.0,278.2 398.9,278.2 396.5,278.0 394.6,277.9 385.0,278.2 376.2,278.5 373.5,278.3 371.6,277.9 369.2,276.4 362.0,271.4 359.2,269.4 350.5,271.6 339.7,267.1 339.2,267.0 339.0,266.7 331.2,257.9 337.3,250.1 338.0,248.7 338.3,248.2 339.0,247.9 341.3,246.9 350.5,241.7 354.9,243.1 358.2,239.5 362.0,234.9 364.3,232.2 373.5,233.4 379.2,234.9 382.7,239.5 379.2,244.1 373.5,248.7 367.1,252.8 368.6,257.9 365.4,264.4 368.3,267.1 373.5,272.1 376.8,273.7 385.0,274.0 394.1,274.4 396.5,275.0 398.2,275.0 408.0,275.0 417.8,275.0 419.5,275.0 419.5,276.4ZM327.5,306.9 333.9,308.1 339.0,310.6 344.1,313.2 349.3,314.1 350.5,316.9 358.5,322.4 360.4,323.7 362.0,324.9 370.5,331.6 372.8,332.2 373.5,333.6 378.3,335.4 385.0,337.2 388.4,338.0 392.2,340.8 396.5,343.9 397.0,340.8 398.3,333.0 399.4,331.6 401.0,328.0 402.6,322.4 403.6,318.9 407.6,313.2 408.0,312.2 410.7,306.1 414.7,304.0 419.5,301.3 419.5,304.0 419.5,313.2 419.5,322.4 419.5,331.6 419.5,340.8 419.5,350.0 408.0,350.0 396.5,350.0 385.0,350.0 373.5,350.0 362.0,350.0 350.5,350.0 339.0,350.0 327.5,350.0 327.5,340.8 327.5,331.6 327.5,322.4 327.5,313.2ZM350.5,216.9 355.4,217.2 355.1,221.1 358.2,227.3 350.5,230.3 345.4,225.2 339.0,221.1 345.0,216.7Z"/>
<path fill="rgb(206,182,6)" d="M370.0,55.4 367.6,60.2 367.6,64.6 367.6,69.1 362.0,71.1 354.3,73.8 359.1,80.7 361.2,83.0 361.5,83.4 362.0,84.9 364.4,92.2 362.5,101.0 362.6,101.4 362.7,102.0 362.0,103.4 358.1,110.6 355.5,114.6 350.5,116.9 345.8,114.4 344.1,110.6 339.0,105.4 336.8,103.2 335.9,101.4 333.2,96.8 330.2,92.2 328.7,91.3 327.5,91.6 327.5,83.0 327.5,73.8 327.5,64.6 327.5,55.4 339.0,55.4 350.5,55.4 362.0,55.4ZM419.5,201.0 414.0,198.3 408.0,202.0 406.9,202.7 408.0,202.9 417.4,204.4 419.5,203.5 419.5,211.9 419.5,221.1 419.5,230.3 419.5,236.8 412.1,233.6 408.0,233.4 404.4,233.2 404.4,230.3 404.4,227.4 400.6,221.1 402.6,216.3 400.1,211.9 396.5,205.3 393.9,204.7 387.9,202.7 394.1,200.8 396.5,200.3 404.3,193.5 406.1,191.9 404.6,184.3 408.0,179.2 409.8,176.5 412.9,175.1 419.5,172.0 419.5,175.1 419.5,184.3 419.5,193.5ZM397.7,350.0 398.3,348.6 399.6,340.8 400.6,334.8 403.0,331.6 406.6,323.5 407.0,322.4 407.1,321.7 408.0,320.5 413.1,313.2 414.8,309.4 419.5,306.8 419.5,313.2 419.5,322.4 419.5,331.6 419.5,340.8 419.5,350.0 408.0,350.0ZM327.5,312.9 327.7,313.0 328.1,313.2 339.0,315.2 346.3,316.5 348.9,322.4 350.5,326.1 354.2,328.6 358.0,331.6 362.0,332.6 369.8,334.5 373.0,340.8 373.5,341.8 380.4,344.5 385.0,347.9 387.9,350.0 385.0,350.0 373.5,350.0 362.0,350.0 350.5,350.0 339.0,350.0 327.5,350.0 327.5,340.8 327.5,331.6 327.5,322.4 327.5,313.2ZM396.5,98.0 406.1,101.4 407.4,101.9 408.0,102.7 414.1,110.6 408.7,119.3 409.0,119.8 409.4,121.0 408.0,120.4 407.5,120.3 396.5,123.3 385.9,119.8 385.3,119.6 385.0,119.2 378.9,110.6 385.0,102.7 385.6,101.9 386.9,101.4ZM350.5,247.2 355.5,248.7 360.2,250.2 362.0,256.3 362.5,257.9 362.0,258.9 359.1,264.8 350.5,267.0 343.0,263.9 339.0,259.4 337.7,257.9 339.0,256.3 342.6,251.6 347.8,248.7Z"/>
<path fill="rgb(212,198,8)" d="M368.8,55.4 365.6,61.7 365.6,64.6 365.6,67.5 362.0,68.7 352.6,72.1 350.5,73.4 349.9,73.4 349.9,73.8 349.5,74.6 350.5,75.7 357.1,83.0 359.1,85.3 361.4,92.2 359.8,99.7 358.3,101.4 350.5,110.6 341.1,101.4 340.2,100.5 339.0,98.8 334.6,92.2 330.6,89.7 327.5,90.5 327.5,83.0 327.5,73.8 327.5,64.6 327.5,55.4 339.0,55.4 350.5,55.4 362.0,55.4ZM419.5,197.2 412.0,193.5 409.5,192.3 408.0,184.3 412.0,178.3 419.0,175.1 419.5,174.9 419.5,175.1 419.5,184.3 419.5,193.5ZM419.5,235.2 408.0,230.3 402.4,221.1 405.3,214.1 404.1,211.9 401.0,206.3 408.0,207.4 412.7,208.2 419.5,205.2 419.5,211.9 419.5,221.1 419.5,230.3ZM399.7,350.0 401.2,346.2 402.1,340.8 402.8,336.6 406.6,331.6 408.0,328.4 410.0,324.0 411.3,322.4 417.5,314.8 418.6,313.2 418.8,312.7 419.5,312.3 419.5,313.2 419.5,322.4 419.5,331.6 419.5,340.8 419.5,350.0 408.0,350.0ZM327.5,314.8 332.1,316.8 339.0,318.1 343.3,318.9 344.9,322.4 348.0,329.6 349.6,331.6 349.6,332.3 350.5,332.4 352.8,333.4 362.0,335.7 366.9,336.9 368.8,340.8 373.5,350.0 362.0,350.0 350.5,350.0 339.0,350.0 327.5,350.0 327.5,340.8 327.5,331.6 327.5,322.4ZM396.5,99.9 400.8,101.4 405.8,103.2 408.0,106.2 411.4,110.6 408.0,116.1 406.5,118.6 402.0,119.8 396.5,121.4 391.8,119.8 387.0,118.3 385.0,115.5 381.6,110.6 385.0,106.2 387.2,103.2 392.2,101.4ZM350.5,252.7 355.3,254.1 356.4,257.9 354.7,261.3 350.5,262.4 346.8,260.9 344.2,257.9 346.6,254.8Z"/>
<path fill="rgb(203,170,5)" d="M367.6,55.4 363.6,63.3 363.6,64.6 363.6,65.9 362.0,66.4 357.8,68.0 350.5,72.2 348.5,72.2 348.5,73.8 347.1,76.6 350.5,80.3 353.0,83.0 356.7,87.2 358.4,92.2 357.2,97.6 354.0,101.4 350.5,105.5 346.3,101.4 343.0,98.2 339.0,92.2 332.6,88.2 327.5,89.4 327.5,83.0 327.5,73.8 327.5,64.6 327.5,56.6 329.0,56.6 329.0,55.4 339.0,55.4 350.5,55.4 362.0,55.4ZM419.5,193.3 412.5,189.9 411.4,184.3 414.2,180.1 419.5,177.7 419.5,184.3ZM419.5,233.7 411.6,230.3 409.2,229.3 408.0,227.3 404.3,221.1 408.0,212.0 408.0,211.9 408.1,211.9 419.5,206.9 419.5,211.9 419.5,221.1 419.5,230.3ZM401.7,350.0 404.2,343.9 404.7,340.8 405.1,338.4 408.0,334.5 410.2,331.6 412.6,326.1 415.7,322.4 419.5,317.7 419.5,322.4 419.5,331.6 419.5,340.8 419.5,350.0 408.0,350.0ZM330.0,350.0 330.0,348.0 327.5,348.1 327.5,340.8 327.5,331.6 327.5,322.4 327.5,316.6 336.8,320.6 339.0,321.0 340.4,321.3 340.8,322.4 341.8,324.7 347.3,331.6 347.3,334.2 350.5,334.3 358.4,337.9 362.0,338.8 363.9,339.3 364.7,340.8 366.5,344.4 371.0,350.0 362.0,350.0 350.5,350.0 339.0,350.0ZM396.5,101.8 404.1,104.6 408.0,109.7 408.7,110.6 408.0,111.8 404.7,117.2 396.5,119.5 388.7,116.9 385.0,111.7 384.3,110.6 385.0,109.7 388.9,104.6Z"/>
<path fill="rgb(190,120,0)" d="M366.5,55.4 362.0,64.1 361.8,64.5 361.6,64.6 350.5,71.1 347.1,71.1 347.1,73.8 344.6,78.5 348.8,83.0 350.5,84.9 354.3,89.2 355.3,92.2 354.6,95.5 350.5,100.4 345.9,95.9 343.4,92.2 339.0,89.4 334.5,86.6 327.5,88.4 327.5,83.0 327.5,73.8 327.5,64.6 327.5,57.8 330.5,57.8 330.4,55.4 339.0,55.4 350.5,55.4 362.0,55.4ZM419.5,189.5 415.5,187.5 414.8,184.3 416.5,181.9 419.5,180.5 419.5,184.3ZM419.5,232.2 415.2,230.3 410.5,228.3 408.0,224.2 406.1,221.1 408.0,216.6 409.4,213.0 412.0,211.9 419.5,208.7 419.5,211.9 419.5,221.1 419.5,230.3ZM403.6,350.0 407.1,341.5 407.2,340.8 407.3,340.3 408.0,339.3 413.8,331.6 415.3,328.2 419.5,323.0 419.5,331.6 419.5,340.8 419.5,350.0 408.0,350.0ZM332.5,350.0 332.5,346.0 327.5,346.2 327.5,340.8 327.5,331.6 327.5,322.4 327.5,318.3 336.8,322.4 338.2,323.0 339.0,324.0 345.0,331.6 345.0,336.0 350.5,336.2 360.5,340.8 361.5,341.2 362.0,341.9 368.5,350.0 362.0,350.0 350.5,350.0 339.0,350.0ZM396.5,103.7 402.4,105.9 406.1,110.6 402.9,115.8 396.5,117.5 390.4,115.5 386.9,110.6 390.6,105.9Z"/>
<path fill="rgb(160,60,0)" d="M365.3,55.4 362.0,61.8 361.0,63.8 359.6,64.6 350.5,69.9 345.7,69.9 345.6,73.8 342.2,80.5 344.5,83.0 350.5,89.5 351.9,91.1 352.3,92.2 352.0,93.5 350.5,95.3 348.8,93.6 347.8,92.2 339.0,86.6 336.5,85.0 327.5,87.3 327.5,83.0 327.5,73.8 327.5,64.6 327.5,58.9 332.0,59.0 331.9,55.4 339.0,55.4 350.5,55.4 362.0,55.4ZM419.5,185.7 418.4,185.1 418.3,184.3 418.7,183.6 419.5,183.3 419.5,184.3ZM419.5,230.6 418.8,230.3 411.8,227.3 408.0,221.1 410.8,214.2 416.0,211.9 419.5,210.4 419.5,211.9 419.5,221.1 419.5,230.3ZM405.6,350.0 408.0,344.2 409.0,341.6 409.8,340.8 414.2,335.8 417.3,331.6 417.9,330.3 419.5,328.4 419.5,331.6 419.5,340.8 419.5,350.0 408.0,350.0ZM335.0,350.0 335.0,344.0 327.5,344.2 327.5,340.8 327.5,331.6 327.5,322.4 327.5,320.1 332.8,322.4 336.8,324.1 339.0,326.9 342.7,331.6 342.7,337.8 350.5,338.1 356.3,340.8 359.9,342.4 362.0,345.0 366.0,350.0 362.0,350.0 350.5,350.0 339.0,350.0ZM396.5,105.7 400.8,107.2 403.4,110.6 401.1,114.3 396.5,115.6 392.1,114.2 389.6,110.6 392.2,107.2Z"/>
<path fill="rgb(130,12,0)" d="M364.1,55.4 362.0,59.5 360.2,63.1 357.6,64.6 350.5,68.7 344.3,68.8 344.2,73.8 339.7,82.4 340.3,83.0 343.9,87.0 339.0,83.9 338.4,83.5 327.5,86.2 327.5,83.0 327.5,73.8 327.5,64.6 327.5,60.1 333.5,60.2 333.4,55.4 339.0,55.4 350.5,55.4 362.0,55.4ZM419.5,229.1 413.0,226.3 409.9,221.1 412.2,215.3 419.5,212.1 419.5,221.1ZM407.6,350.0 408.0,349.0 410.5,342.8 412.3,340.8 419.5,332.7 419.5,340.8 419.5,350.0 408.0,350.0ZM337.5,350.0 337.5,342.0 327.5,342.3 327.5,340.8 327.5,331.6 327.5,322.4 327.5,321.8 328.8,322.4 335.4,325.3 339.0,329.8 340.4,331.6 340.4,339.7 350.5,340.0 352.2,340.8 358.4,343.7 362.0,348.1 363.5,350.0 362.0,350.0 350.5,350.0 339.0,350.0ZM396.5,107.6 399.1,108.5 400.8,110.6 399.3,112.9 396.5,113.7 393.8,112.8 392.2,110.6 393.9,108.5Z"/>
<path fill="rgb(179,55,0)" d="M362.9,55.4 362.0,57.2 359.3,62.5 355.7,64.6 350.5,67.6 342.8,67.7 342.7,73.8 339.0,81.1 338.3,82.4 336.0,83.0 327.5,85.2 327.5,83.0 327.5,73.8 327.5,64.6 327.5,61.3 335.0,61.4 334.9,55.4 339.0,55.4 350.5,55.4 362.0,55.4ZM419.5,227.6 414.2,225.3 411.7,221.1 413.6,216.4 419.5,213.8 419.5,221.1ZM409.6,350.0 412.0,344.0 414.9,340.8 419.5,335.6 419.5,340.8 419.5,350.0ZM340.0,350.0 340.0,341.6 350.5,341.9 356.9,344.9 361.0,350.0 350.5,350.0ZM327.5,323.6 334.0,326.4 338.1,331.6 338.1,340.1 327.5,340.4 327.5,331.6ZM396.5,109.5 397.5,109.8 398.1,110.6 397.6,111.5 396.5,111.8 395.5,111.5 394.9,110.6 395.5,109.8Z"/>
<path fill="rgb(228,98,0)" d="M361.8,55.4 358.5,61.8 353.7,64.6 350.5,66.4 341.4,66.5 341.3,73.8 339.0,78.3 337.3,81.6 331.8,83.0 327.5,84.1 327.5,83.0 327.5,73.8 327.5,64.6 327.5,62.5 336.5,62.6 336.3,55.4 339.0,55.4 350.5,55.4ZM419.5,226.0 415.5,224.3 413.6,221.1 415.0,217.5 419.5,215.6 419.5,221.1ZM411.6,350.0 413.5,345.2 417.5,340.8 419.5,338.5 419.5,340.8 419.5,350.0ZM342.5,350.0 342.5,343.6 350.5,343.9 355.4,346.1 358.5,350.0 350.5,350.0ZM327.5,325.3 332.6,327.5 335.8,331.6 335.8,338.2 327.5,338.5 327.5,331.6Z"/>
<path fill="rgb(239,114,2)" d="M360.6,55.4 357.7,61.1 351.7,64.6 350.5,65.3 340.0,65.4 339.9,73.8 339.0,75.5 336.3,80.8 327.5,83.0 327.5,73.8 327.5,64.6 327.5,63.7 338.0,63.8 337.8,55.4 339.0,55.4 350.5,55.4ZM419.5,224.5 416.8,223.3 415.4,221.1 416.4,218.6 419.5,217.3 419.5,221.1ZM413.6,350.0 415.0,346.4 419.5,341.4 419.5,350.0ZM345.0,350.0 345.0,345.6 350.5,345.8 353.8,347.3 356.0,350.0 350.5,350.0ZM327.5,327.1 331.2,328.6 333.5,331.6 333.5,336.4 327.5,336.6 327.5,331.6Z"/>
<path fill="rgb(250,130,5)" d="M359.4,55.4 356.8,60.5 350.5,64.1 339.4,64.3 339.3,55.4 350.5,55.4ZM419.5,223.0 418.0,222.3 417.3,221.1 417.8,219.8 419.5,219.0 419.5,221.1ZM415.5,350.0 416.5,347.6 419.5,344.2 419.5,350.0ZM347.5,350.0 347.5,347.6 350.5,347.7 352.3,348.5 353.5,350.0 350.5,350.0ZM327.5,328.8 329.8,329.8 331.2,331.6 331.2,334.5 327.5,334.7 327.5,331.6ZM327.5,64.8 338.6,65.0 338.4,73.8 335.2,80.0 327.5,81.9 327.5,73.8Z"/>
<path fill="rgb(234,118,2)" d="M358.2,55.4 356.0,59.8 350.5,63.0 340.9,63.1 340.8,55.4 350.5,55.4ZM419.5,221.4 419.2,221.3 419.1,221.1 419.2,220.9 419.5,220.8 419.5,221.1ZM417.5,350.0 418.0,348.8 419.5,347.1 419.5,350.0ZM350.0,350.0 350.0,349.6 350.5,349.6 350.8,349.8 351.0,350.0 350.5,350.0ZM327.5,330.5 328.3,330.9 328.9,331.6 328.9,332.7 327.5,332.7 327.5,331.6ZM327.5,66.0 337.1,66.1 337.0,73.8 334.2,79.2 327.5,80.9 327.5,73.8Z"/>
<path fill="rgb(218,105,0)" d="M357.1,55.4 355.2,59.1 350.5,61.8 342.3,61.9 342.2,55.4 350.5,55.4ZM327.5,67.2 335.7,67.3 335.6,73.8 333.2,78.4 327.5,79.8 327.5,73.8Z"/>
<path fill="rgb(179,78,0)" d="M355.9,55.4 354.3,58.5 350.5,60.7 343.8,60.8 343.7,55.4 350.5,55.4ZM327.5,68.4 334.2,68.5 334.1,73.8 332.2,77.6 327.5,78.7 327.5,73.8Z"/>
<path fill="rgb(140,50,0)" d="M354.7,55.4 353.5,57.8 350.5,59.5 345.3,59.6 345.2,55.4 350.5,55.4ZM327.5,69.6 332.7,69.6 332.7,73.8 331.2,76.7 327.5,77.7 327.5,73.8Z"/>
<path fill="rgb(140,50,0)" d="M353.6,55.4 352.7,57.1 350.5,58.4 346.7,58.4 346.7,55.4 350.5,55.4ZM327.5,70.7 331.3,70.8 331.2,73.8 330.1,75.9 327.5,76.6 327.5,73.8Z"/>
<path fill="rgb(140,50,0)" d="M352.4,55.4 351.8,56.5 350.5,57.2 348.2,57.3 348.1,55.4 350.5,55.4ZM327.5,71.9 329.8,71.9 329.8,73.8 329.1,75.1 327.5,75.5 327.5,73.8Z"/>
<path fill="rgb(140,50,0)" d="M351.2,55.4 351.0,55.8 350.5,56.1 349.6,56.1 349.6,55.4 350.5,55.4ZM327.5,73.1 328.4,73.1 328.4,73.8 328.1,74.3 327.5,74.5 327.5,73.8Z"/>
<path d="M327.5,54.9V350.5M350.5,54.9V350.5M373.5,54.9V350.5M396.5,54.9V350.5M419.5,54.9V350.5M327.0,55.4H420.0M327.0,73.8H420.0M327.0,92.2H420.0M327.0,110.6H420.0M327.0,129.1H420.0M327.0,147.5H420.0M327.0,165.9H420.0M327.0,184.3H420.0M327.0,202.7H420.0M327.0,221.1H420.0M327.0,239.5H420.0M327.0,257.9H420.0M327.0,276.4H420.0M327.0,294.8H420.0M327.0,313.2H420.0M327.0,331.6H420.0M327.0,350.0H420.0" stroke="#000" stroke-width="1.0" fill="none" opacity="0.7"/></g>
<g fill-rule="evenodd"><rect x="479.5" y="57.5" width="92.0" height="298.0" fill="rgb(130,118,1)"/>
<path fill="rgb(136,112,1)" d="M523.4,57.5 523.0,59.5 523.5,66.8 524.1,75.0 523.7,76.1 522.9,78.3 522.9,85.4 522.9,92.6 520.9,94.8 524.6,95.5 525.5,95.2 526.5,95.5 537.0,95.9 546.7,96.2 548.5,98.9 550.6,96.4 560.0,96.4 569.4,96.4 571.5,95.8 571.5,104.1 571.5,113.4 571.5,122.7 571.5,132.0 571.5,141.3 571.5,150.6 571.5,159.9 571.5,169.2 571.5,178.6 571.5,187.9 571.5,197.2 571.5,206.5 571.5,215.8 571.5,225.1 571.5,234.4 571.5,243.8 571.5,253.1 571.5,262.4 571.5,271.7 571.5,281.0 571.5,290.3 571.5,299.6 571.5,308.9 571.5,318.2 571.5,327.6 571.5,336.9 571.5,346.2 571.5,355.5 560.0,355.5 548.5,355.5 537.0,355.5 525.5,355.5 514.0,355.5 502.5,355.5 491.0,355.5 479.5,355.5 479.5,346.2 479.5,336.9 479.5,327.6 479.5,318.2 479.5,308.9 479.5,299.6 479.5,290.3 479.5,281.0 479.5,271.7 479.5,262.4 479.5,253.1 479.5,243.8 479.5,234.4 479.5,225.1 479.5,215.8 479.5,206.5 479.5,197.2 479.5,187.9 479.5,178.6 479.5,169.2 479.5,159.9 479.5,150.6 479.5,141.3 479.5,132.0 479.5,122.7 479.5,113.4 479.5,104.1 479.5,94.8 479.5,85.4 479.5,76.1 479.5,66.8 479.5,57.5 491.0,57.5 502.5,57.5 514.0,57.5Z"/>
<path fill="rgb(143,107,2)" d="M521.3,57.5 520.5,61.6 520.8,66.8 521.3,72.7 520.0,76.1 517.6,82.5 517.6,85.4 517.6,88.4 514.0,92.3 511.7,94.8 514.0,95.2 522.8,96.9 525.5,96.1 528.4,97.1 537.0,97.4 545.0,97.6 548.5,103.0 552.7,98.1 560.0,98.1 567.3,98.1 571.5,96.9 571.5,104.1 571.5,113.4 571.5,122.7 571.5,132.0 571.5,141.3 571.5,144.4 563.8,141.3 561.3,140.3 560.0,138.2 556.2,132.0 549.6,131.1 548.5,128.9 547.5,131.2 537.0,131.6 525.5,132.0 535.4,141.3 536.1,142.0 537.0,144.4 539.3,150.6 546.2,152.5 548.5,158.1 556.9,157.4 560.0,157.4 563.1,157.4 571.5,156.8 571.5,159.9 571.5,169.2 571.5,178.6 571.5,187.9 571.5,197.2 571.5,206.5 571.5,215.8 571.5,225.1 571.5,234.4 571.5,243.8 571.5,253.1 571.5,262.4 571.5,271.7 571.5,281.0 571.5,290.3 571.5,299.6 571.5,308.9 571.5,318.2 571.5,327.6 571.5,336.9 571.5,346.2 571.5,355.5 560.0,355.5 548.5,355.5 537.0,355.5 525.5,355.5 514.0,355.5 502.5,355.5 491.0,355.5 479.5,355.5 479.5,346.2 479.5,336.9 479.5,327.6 479.5,318.2 479.5,308.9 479.5,299.6 479.5,290.3 479.5,281.0 479.5,271.7 479.5,262.4 479.5,253.1 479.5,243.8 479.5,234.4 479.5,225.1 479.5,215.8 479.5,206.5 479.5,200.3 481.8,197.2 485.2,192.5 491.0,191.9 498.7,191.0 502.5,189.6 505.4,190.2 507.1,187.9 503.7,186.9 502.5,183.2 494.8,178.6 492.6,177.2 491.0,173.9 488.7,169.2 489.7,161.0 479.5,159.9 479.5,150.6 479.5,141.3 479.5,132.0 479.5,122.7 479.5,113.4 479.5,104.1 479.5,94.8 479.5,85.4 479.5,76.1 479.5,66.8 479.5,57.5 491.0,57.5 502.5,57.5 514.0,57.5ZM502.0,141.3 501.6,149.9 491.0,150.6 492.3,158.9 502.5,158.1 504.8,152.5 511.7,150.6 512.7,142.3 511.7,141.3 502.5,132.0ZM522.6,204.2 523.4,206.5 521.3,209.9 519.4,215.8 518.2,219.2 514.0,221.7 508.2,225.1 511.7,232.6 513.0,234.4 513.3,235.0 514.0,237.5 515.6,243.8 522.1,246.5 524.1,253.1 525.5,257.7 534.7,254.9 537.0,254.1 537.9,253.8 540.8,253.1 548.5,251.2 554.2,248.4 556.2,243.8 549.8,242.7 548.5,234.4 541.9,230.4 539.3,225.1 540.1,218.4 543.9,215.8 548.5,212.7 549.1,207.0 551.4,206.5 549.0,206.1 548.5,200.3 542.8,201.8 537.0,201.8 531.2,201.8 525.5,202.8ZM524.3,271.7 522.6,278.6 520.2,281.0 516.9,288.0 516.9,290.3 516.9,292.6 514.0,294.0 502.5,299.6 502.5,308.9 502.5,318.2 514.0,320.9 520.4,322.4 525.5,321.4 527.1,319.5 531.2,318.2 537.0,310.0 537.5,309.3 538.3,308.9 548.5,304.3 553.3,303.5 557.7,299.6 551.6,297.1 551.0,290.3 550.3,282.4 549.5,281.0 550.0,279.8 548.5,276.3 537.0,271.7 525.5,267.0Z"/>
<path fill="rgb(150,101,2)" d="M519.2,57.5 517.9,63.6 518.2,66.8 518.4,70.4 516.3,76.1 514.0,82.3 513.1,84.7 512.4,85.4 502.5,94.8 514.0,97.0 521.1,98.3 525.5,97.0 530.3,98.6 537.0,98.8 543.2,99.0 546.5,104.1 548.5,107.2 551.2,104.1 554.8,99.8 560.0,99.8 565.2,99.8 571.5,97.9 571.5,104.1 571.5,113.4 571.5,122.7 571.5,132.0 560.0,130.4 551.9,129.3 548.5,122.7 545.5,129.6 537.0,129.9 527.7,130.2 525.5,131.0 523.3,130.2 514.0,130.2 504.7,130.2 503.2,122.7 502.5,119.6 502.0,122.7 500.6,130.5 501.5,132.0 500.5,133.6 500.1,141.3 499.7,148.4 491.0,149.0 480.6,149.7 479.5,150.2 479.5,141.3 479.5,132.0 479.5,122.7 479.5,114.2 481.4,114.9 491.0,113.8 494.8,113.4 491.0,110.9 486.3,107.9 479.5,109.0 479.5,104.1 479.5,94.8 479.5,85.4 479.5,76.1 479.5,66.8 479.5,57.5 491.0,57.5 502.5,57.5 514.0,57.5ZM571.5,243.8 560.0,241.9 552.3,240.6 551.4,234.4 550.1,226.5 549.3,225.1 550.0,223.9 550.9,215.8 551.7,209.1 560.0,207.2 562.9,206.5 560.0,206.0 550.9,204.6 550.3,197.2 549.6,188.8 549.1,187.9 549.6,187.0 549.3,178.6 549.1,169.7 560.0,169.5 571.5,169.2 571.5,178.6 571.5,187.9 571.5,197.2 571.5,206.5 571.5,215.8 571.5,225.1 571.5,234.4ZM571.5,298.6 566.9,295.9 560.0,293.1 557.7,292.2 557.5,290.3 557.3,288.2 553.5,281.0 555.9,275.0 554.5,271.7 551.6,264.9 560.0,264.9 568.4,264.9 571.5,263.4 571.5,271.7 571.5,281.0 571.5,290.3ZM479.5,235.8 488.1,236.8 491.0,238.2 502.5,243.8 514.0,248.6 517.6,250.1 518.5,253.1 520.0,257.9 522.8,262.4 521.0,266.0 519.6,271.7 518.6,275.5 514.0,280.1 513.1,281.0 510.2,287.2 505.4,290.3 502.5,292.2 498.9,296.7 496.8,299.6 496.8,304.3 496.8,308.9 496.8,313.6 496.8,318.2 498.9,321.2 499.6,327.6 500.4,335.1 501.0,336.9 501.2,337.9 502.5,346.2 503.6,337.8 508.2,336.9 514.0,331.6 516.3,329.4 525.5,327.6 530.3,322.1 537.0,320.0 542.8,318.2 544.8,315.3 548.5,313.6 555.6,312.5 560.0,314.1 571.5,318.2 571.5,327.6 571.5,336.9 571.5,346.2 571.5,355.5 560.0,355.5 548.5,355.5 537.0,355.5 525.5,355.5 514.0,355.5 502.5,355.5 491.0,355.5 479.5,355.5 479.5,346.2 479.5,336.9 479.5,327.6 479.5,318.2 479.5,308.9 479.5,299.6 479.5,290.3 479.5,281.0 479.5,271.7 479.5,262.4 479.5,253.1 479.5,243.8ZM514.0,155.0 523.2,152.5 525.5,151.4 527.8,152.5 537.0,155.0 541.6,156.2 543.1,159.9 546.2,167.4 547.6,169.2 546.7,170.7 545.9,178.6 545.3,185.3 537.0,186.4 525.5,187.9 514.0,184.5 508.6,183.0 507.1,178.6 504.6,170.9 503.4,169.2 504.8,167.4 507.9,159.9 509.4,156.2ZM502.5,196.3 506.3,197.2 512.4,198.5 514.0,203.4 515.0,206.5 514.0,208.2 510.9,213.3 507.1,215.8 502.5,218.9 495.6,215.8 492.6,214.5 491.0,212.1 487.2,206.5 491.0,202.5 493.9,199.5 500.2,197.2Z"/>
<path fill="rgb(159,94,3)" d="M517.1,57.5 515.4,65.7 515.5,66.8 515.6,68.1 514.0,72.4 512.6,76.1 510.3,82.4 507.1,85.4 502.5,89.8 500.3,93.0 495.4,94.8 491.0,101.0 489.6,102.9 482.8,104.1 479.5,104.6 479.5,104.1 479.5,94.8 479.5,85.4 479.5,76.1 479.5,66.8 479.5,57.5 491.0,57.5 502.5,57.5 514.0,57.5ZM571.5,130.7 568.3,129.4 560.0,128.3 554.1,127.5 551.7,122.7 548.5,116.5 545.8,122.7 543.5,128.0 537.0,128.2 529.9,128.5 525.5,130.0 521.0,128.4 514.0,128.4 507.0,128.4 505.8,122.7 504.1,114.7 503.2,113.4 504.1,112.0 504.8,104.1 505.4,97.1 514.0,98.7 519.3,99.8 525.5,97.9 532.2,100.2 537.0,100.3 541.4,100.5 543.8,104.1 548.5,111.3 554.7,104.1 556.9,101.5 560.0,101.5 563.1,101.5 571.5,99.0 571.5,104.1 571.5,113.4 571.5,122.7ZM571.5,206.3 570.8,205.9 560.0,204.2 552.8,203.0 552.3,197.2 551.8,190.5 550.2,187.9 551.7,185.2 551.5,178.6 551.3,171.5 560.0,171.4 569.1,171.2 571.5,170.2 571.5,178.6 571.5,187.9 571.5,197.2ZM571.5,242.4 567.7,240.6 560.0,239.4 554.9,238.6 554.2,234.4 553.4,229.1 550.9,225.1 553.1,221.4 553.7,215.8 554.2,211.2 560.0,209.8 570.4,207.4 571.5,206.9 571.5,215.8 571.5,225.1 571.5,234.4ZM571.5,294.7 564.1,290.3 561.7,288.9 560.0,285.7 557.5,281.0 560.0,274.8 560.9,272.5 562.5,271.7 571.5,267.3 571.5,271.7 571.5,281.0 571.5,290.3ZM503.2,355.5 503.9,354.4 504.9,346.2 505.8,339.5 514.0,338.0 519.8,336.9 522.4,334.4 525.5,333.8 530.9,327.6 533.4,324.7 537.0,323.6 545.0,321.1 548.5,319.5 551.2,320.4 560.0,321.2 567.1,321.8 571.5,327.6 571.5,336.9 571.5,346.2 571.5,355.5 560.0,355.5 548.5,355.5 537.0,355.5 525.5,355.5 514.0,355.5ZM479.5,245.6 481.2,245.1 491.0,246.6 497.8,247.6 502.5,247.0 513.0,253.1 513.6,253.4 514.0,254.1 519.3,262.4 515.1,270.8 514.9,271.7 514.7,272.3 514.0,273.0 506.0,281.0 505.1,283.1 502.5,284.7 498.0,290.3 495.3,293.8 491.0,299.6 491.0,308.9 491.0,318.2 495.3,324.1 495.6,327.6 496.1,331.7 498.0,336.9 498.6,340.0 499.6,346.2 500.8,354.1 501.1,355.5 491.0,355.5 479.5,355.5 479.5,346.2 479.5,336.9 479.5,327.6 479.5,318.2 479.5,308.9 479.5,299.6 479.5,290.3 479.5,281.0 479.5,271.7 479.5,262.4 479.5,253.1ZM479.5,115.0 483.3,116.4 491.0,115.5 501.3,114.4 499.8,122.7 498.7,129.0 500.5,132.0 498.5,135.2 498.2,141.3 497.9,146.9 491.0,147.4 482.8,148.0 479.5,149.4 479.5,141.3 479.5,132.0 479.5,122.7ZM514.0,159.9 525.5,154.3 537.0,159.9 543.9,169.2 539.3,176.7 539.1,178.6 539.0,180.2 537.0,180.4 534.3,180.8 525.5,184.8 515.3,179.6 514.0,179.2 513.4,179.1 513.2,178.6 513.0,177.7 507.1,169.2ZM502.5,203.1 505.8,203.8 506.7,206.5 505.3,208.8 502.5,210.6 499.2,209.2 497.4,206.5 499.6,204.2Z"/>
<path fill="rgb(168,88,3)" d="M515.0,57.5 514.0,62.5 513.2,66.2 512.8,66.8 511.7,68.7 508.9,76.1 507.5,80.1 502.5,84.8 502.1,85.4 498.1,91.2 491.0,93.8 488.3,94.8 485.1,99.3 479.5,100.2 479.5,94.8 479.5,85.4 479.5,76.1 479.5,66.8 479.5,57.5 491.0,57.5 502.5,57.5 514.0,57.5ZM571.5,129.4 565.2,126.9 560.0,126.1 556.4,125.6 554.8,122.7 551.2,115.6 549.4,113.4 554.2,108.7 558.2,104.1 559.0,103.2 560.0,103.2 561.0,103.2 571.5,100.1 571.5,104.1 571.5,113.4 571.5,122.7ZM571.5,205.3 567.9,203.6 560.0,202.3 554.7,201.5 554.4,197.2 554.0,192.3 551.3,187.9 553.9,183.5 553.8,178.6 553.6,173.4 560.0,173.3 566.7,173.1 571.5,171.1 571.5,178.6 571.5,187.9 571.5,197.2ZM571.5,241.1 563.8,237.5 560.0,236.9 557.4,236.5 557.1,234.4 556.7,231.8 552.5,225.1 556.2,218.9 556.5,215.8 556.8,213.2 560.0,212.5 565.8,211.2 571.5,208.3 571.5,215.8 571.5,225.1 571.5,234.4ZM571.5,290.8 570.7,290.3 564.5,286.6 561.5,281.0 564.0,274.9 570.5,271.7 571.5,271.2 571.5,271.7 571.5,281.0 571.5,290.3ZM571.5,336.9 570.1,346.2 569.1,353.5 566.9,355.5 560.0,355.5 548.5,355.5 537.0,355.5 525.5,355.5 514.0,355.5 504.5,355.5 506.6,352.2 507.3,346.2 508.0,341.3 514.0,340.2 523.7,338.3 525.5,337.5 526.4,337.6 527.3,336.9 534.7,329.4 536.3,327.6 536.6,327.2 537.0,327.1 537.9,326.8 548.5,322.0 556.6,324.8 560.0,325.1 562.7,325.3 564.4,327.6ZM479.5,253.1 488.0,250.6 491.0,251.1 493.1,251.4 502.5,250.2 507.4,253.1 511.2,255.3 514.0,259.6 515.8,262.4 514.0,265.9 512.0,270.0 510.2,271.7 502.5,278.8 500.1,279.1 499.4,281.0 494.1,287.8 492.1,290.3 491.7,290.9 491.0,291.8 485.2,299.6 485.2,304.3 485.2,308.9 485.2,313.6 485.2,318.2 491.0,326.1 491.7,327.0 491.7,327.6 491.8,328.2 495.1,336.9 496.0,342.1 496.7,346.2 497.5,351.4 498.2,355.5 491.0,355.5 479.5,355.5 479.5,346.2 479.5,336.9 479.5,327.6 479.5,318.2 479.5,308.9 479.5,299.6 479.5,290.3 479.5,281.0 479.5,271.7 479.5,262.4ZM479.5,115.8 485.1,117.9 491.0,117.3 498.8,116.4 497.7,122.7 496.9,127.4 499.5,132.0 496.5,136.9 496.3,141.3 496.1,145.4 491.0,145.8 485.0,146.2 479.5,148.6 479.5,141.3 479.5,132.0 479.5,122.7ZM514.0,100.5 517.5,101.2 525.5,98.8 534.1,101.7 537.0,101.8 539.7,101.9 541.1,104.1 545.6,111.0 547.8,113.4 546.4,115.1 543.1,122.7 541.5,126.3 537.0,126.5 532.1,126.7 525.5,129.1 518.8,126.5 514.0,126.5 509.2,126.5 508.4,122.7 507.3,117.2 504.5,113.4 507.4,109.4 507.9,104.1 508.2,99.4ZM525.5,157.3 530.9,159.9 534.7,161.8 537.0,164.9 540.2,169.2 537.0,174.5 535.3,177.2 532.3,178.6 525.5,181.7 519.4,178.6 516.1,176.9 514.0,173.9 510.8,169.2 514.0,164.9 516.3,161.8 520.1,159.9Z"/>
<path fill="rgb(190,96,3)" d="M513.0,57.5 511.4,64.7 510.2,66.8 506.4,72.9 505.3,76.1 504.6,77.8 502.5,79.8 498.7,85.4 495.9,89.4 491.0,91.2 481.3,94.8 480.6,95.7 479.5,95.8 479.5,94.8 479.5,85.4 479.5,76.1 479.5,66.8 479.5,57.5 491.0,57.5 502.5,57.5ZM571.5,128.1 562.0,124.3 560.0,124.0 558.6,123.8 558.0,122.7 556.6,119.9 551.2,113.4 560.0,104.9 560.5,104.5 561.8,104.1 571.5,101.1 571.5,104.1 571.5,113.4 571.5,122.7ZM571.5,204.3 565.0,201.3 560.0,200.4 556.6,199.9 556.4,197.2 556.2,194.1 552.4,187.9 556.1,181.7 556.0,178.6 555.9,175.2 560.0,175.1 564.3,175.1 571.5,172.0 571.5,178.6 571.5,187.9 571.5,197.2ZM571.5,239.8 560.0,234.4 554.1,225.1 559.2,216.4 559.3,215.8 559.4,215.3 560.0,215.1 561.1,214.9 571.5,209.7 571.5,215.8 571.5,225.1 571.5,234.4ZM571.5,286.9 567.3,284.4 565.5,281.0 567.0,277.3 571.5,275.1 571.5,281.0ZM505.9,355.5 509.3,350.0 509.8,346.2 510.2,343.1 514.0,342.4 520.2,341.2 525.5,338.6 528.3,339.1 530.8,336.9 537.0,330.7 538.7,328.9 541.7,327.6 548.5,324.5 557.3,327.6 559.2,328.2 560.0,329.0 567.7,336.9 565.4,341.8 564.7,346.2 564.2,349.6 560.0,353.4 557.7,355.5 548.5,355.5 537.0,355.5 525.5,355.5 514.0,355.5ZM479.5,260.5 483.0,259.5 491.0,255.6 493.0,254.6 502.5,253.5 508.9,257.2 512.2,262.4 509.4,268.0 505.4,271.7 502.5,274.4 495.4,275.3 493.3,281.0 491.0,283.9 487.9,287.8 486.2,290.3 479.5,299.6 479.5,308.9 479.5,318.2 487.8,327.6 489.2,329.1 491.0,333.9 492.1,336.9 493.4,344.2 493.7,346.2 494.1,348.7 495.3,355.5 491.0,355.5 479.5,355.5 479.5,346.2 479.5,336.9 479.5,327.6 479.5,318.2 479.5,308.9 479.5,299.6 479.5,290.3 479.5,281.0 479.5,271.7 479.5,262.4ZM479.5,116.6 487.0,119.5 491.0,119.0 496.3,118.4 495.5,122.7 495.0,125.9 498.5,132.0 494.5,138.5 494.4,141.3 494.2,143.9 491.0,144.1 487.2,144.4 479.5,147.7 479.5,141.3 479.5,132.0 479.5,122.7ZM514.0,102.3 515.8,102.6 525.5,99.7 536.0,103.3 537.0,103.3 537.9,103.3 538.4,104.1 539.9,106.4 546.4,113.4 542.2,118.5 540.4,122.7 539.5,124.7 537.0,124.8 534.3,124.9 525.5,128.1 516.5,124.7 514.0,124.7 511.5,124.7 511.0,122.7 510.4,119.8 505.8,113.4 510.7,106.7 510.9,104.1 511.1,101.7ZM525.5,160.3 532.4,163.7 536.5,169.2 532.9,175.2 525.5,178.6 518.4,175.0 514.5,169.2 518.6,163.7Z"/>
<path fill="rgb(213,104,3)" d="M510.9,57.5 509.6,63.3 507.5,66.8 502.5,75.0 501.8,75.5 501.9,76.1 500.6,77.7 495.3,85.4 493.7,87.7 491.0,88.6 483.8,91.3 479.5,93.5 479.5,85.4 479.5,76.1 479.5,66.8 479.5,57.5 491.0,57.5 502.5,57.5ZM571.5,126.9 561.2,122.7 560.4,122.4 560.0,121.9 552.9,113.4 560.0,106.6 561.4,105.2 565.3,104.1 571.5,102.2 571.5,104.1 571.5,113.4 571.5,122.7ZM571.5,203.4 562.2,198.9 560.0,198.6 558.6,198.4 558.5,197.2 558.4,195.9 553.5,187.9 558.2,180.0 558.2,178.6 558.2,177.1 560.0,177.0 561.9,177.0 571.5,173.0 571.5,178.6 571.5,187.9 571.5,197.2ZM571.5,238.4 562.9,234.4 561.0,233.6 560.0,232.0 555.6,225.1 560.0,217.8 560.8,216.5 562.1,215.8 571.5,211.1 571.5,215.8 571.5,225.1 571.5,234.4ZM571.5,283.0 570.1,282.1 569.5,281.0 570.0,279.8 571.5,279.0 571.5,281.0ZM507.2,355.5 512.0,347.8 512.2,346.2 512.4,344.9 514.0,344.5 516.7,344.0 525.5,339.8 530.1,340.6 534.3,336.9 537.0,334.2 540.7,330.5 547.1,327.6 548.5,326.9 550.3,327.6 557.1,329.9 560.0,333.0 563.8,336.9 560.0,345.2 559.7,345.9 559.3,346.2 548.5,355.5 537.0,355.5 525.5,355.5 514.0,355.5ZM479.5,322.6 483.9,327.6 486.9,330.9 489.1,336.9 490.8,346.0 490.8,346.2 490.8,346.3 491.0,347.2 492.4,355.5 491.0,355.5 479.5,355.5 479.5,346.2 479.5,336.9 479.5,327.6ZM479.5,269.4 488.7,271.7 490.5,272.1 487.2,281.0 484.2,284.8 480.2,290.3 479.5,291.3 479.5,290.3 479.5,281.0 479.5,271.7ZM479.5,117.4 488.9,121.0 491.0,120.7 493.8,120.4 493.4,122.7 493.1,124.4 497.5,132.0 492.5,140.1 492.4,141.3 492.4,142.4 491.0,142.5 489.4,142.6 479.5,146.9 479.5,141.3 479.5,132.0 479.5,122.7ZM514.0,104.1 525.5,100.7 535.6,104.1 536.6,104.4 537.0,104.8 545.0,113.4 538.0,121.8 537.7,122.7 537.5,123.1 537.0,123.1 536.5,123.1 525.5,127.1 514.3,122.9 514.0,122.9 513.7,122.9 513.7,122.7 513.6,122.4 507.1,113.4ZM525.5,163.3 530.1,165.5 532.9,169.2 530.4,173.2 525.5,175.5 520.8,173.1 518.1,169.2 520.9,165.5ZM502.5,256.7 506.6,259.1 508.7,262.4 506.9,265.9 502.5,270.0 491.4,271.4 491.0,270.7 486.4,262.4 491.0,260.1 496.4,257.5Z"/>
<path fill="rgb(229,112,3)" d="M508.8,57.5 507.9,61.8 504.8,66.8 502.5,70.6 498.8,73.2 499.7,76.1 492.9,83.9 491.9,85.4 491.5,85.9 491.0,86.1 489.6,86.6 479.5,91.7 479.5,85.4 479.5,76.1 479.5,66.8 479.5,57.5 491.0,57.5 502.5,57.5ZM571.5,125.6 564.4,122.7 561.5,121.5 560.0,119.8 554.7,113.4 560.0,108.3 562.4,106.0 568.8,104.1 571.5,103.3 571.5,104.1 571.5,113.4 571.5,122.7ZM571.5,202.4 560.5,197.2 560.2,197.0 560.0,196.7 554.7,187.9 560.0,178.9 560.1,178.7 560.4,178.6 571.5,173.9 571.5,178.6 571.5,187.9 571.5,197.2ZM571.5,237.1 565.8,234.4 562.1,232.7 560.0,229.5 557.2,225.1 560.0,220.5 561.9,217.3 564.9,215.8 571.5,212.5 571.5,215.8 571.5,225.1 571.5,234.4ZM508.6,355.5 514.0,346.7 514.2,346.4 514.6,346.2 525.5,340.9 531.9,342.1 537.0,337.7 537.9,336.9 542.6,332.1 548.5,329.4 554.9,331.7 560.0,336.9 556.9,343.6 553.9,346.2 548.5,350.8 545.4,353.0 546.8,355.5 537.0,355.5 525.5,355.5 514.0,355.5ZM479.5,327.0 480.0,327.6 484.6,332.7 486.2,336.9 487.3,343.2 487.9,346.2 488.3,348.4 489.6,355.5 479.5,355.5 479.5,346.2 479.5,336.9 479.5,327.6ZM479.5,278.7 481.7,279.2 481.0,281.0 480.4,281.8 479.5,283.1 479.5,281.0ZM479.5,118.2 490.8,122.5 491.0,122.5 491.3,122.4 491.3,122.7 491.2,122.9 496.5,132.0 491.0,140.9 490.8,141.2 490.5,141.3 479.5,146.1 479.5,141.3 479.5,132.0 479.5,122.7ZM525.5,101.6 532.9,104.1 535.8,105.0 537.0,106.3 543.6,113.4 537.0,121.4 536.4,122.2 535.0,122.7 525.5,126.1 516.3,122.7 514.7,122.1 514.0,121.1 508.4,113.4 514.0,105.8 514.8,104.7 517.1,104.1ZM525.5,166.3 527.8,167.4 529.2,169.2 528.0,171.2 525.5,172.4 523.1,171.2 521.8,169.2 523.2,167.4ZM502.5,259.9 504.2,261.0 505.2,262.4 504.4,263.9 502.5,265.7 497.7,266.2 495.6,262.4 499.9,260.3Z"/>
<path fill="rgb(240,120,4)" d="M506.7,57.5 506.1,60.4 502.5,66.3 501.7,66.8 495.9,70.8 497.5,76.1 491.0,83.5 490.0,84.6 488.4,85.4 479.5,90.0 479.5,85.4 479.5,76.1 479.5,66.8 479.5,59.6 483.8,61.0 487.2,57.5 491.0,57.5 502.5,57.5ZM571.5,124.3 567.5,122.7 562.5,120.7 560.0,117.6 556.5,113.4 560.0,110.0 563.4,106.8 571.5,104.3 571.5,113.4 571.5,122.7ZM571.5,201.4 562.6,197.2 560.9,196.4 560.0,194.9 555.8,187.9 560.0,180.8 560.9,179.3 562.6,178.6 571.5,174.8 571.5,178.6 571.5,187.9 571.5,197.2ZM571.5,235.8 568.6,234.4 563.1,231.9 560.0,227.0 558.8,225.1 560.0,223.1 562.9,218.2 567.7,215.8 571.5,213.9 571.5,215.8 571.5,225.1 571.5,234.4ZM509.9,355.5 514.0,348.9 515.1,347.1 517.0,346.2 525.5,342.1 533.8,343.6 537.0,340.8 541.4,336.9 544.6,333.7 548.5,331.9 552.8,333.4 556.2,336.9 554.1,341.4 548.5,346.2 542.4,350.5 545.1,355.5 537.0,355.5 525.5,355.5 514.0,355.5ZM479.5,331.4 482.3,334.6 483.2,336.9 483.8,340.4 485.0,346.2 485.8,350.4 486.7,355.5 479.5,355.5 479.5,346.2 479.5,336.9ZM479.5,119.0 489.1,122.7 490.4,123.2 491.0,124.2 495.5,132.0 491.0,139.3 490.2,140.6 488.6,141.3 479.5,145.2 479.5,141.3 479.5,132.0 479.5,122.7ZM525.5,102.5 530.2,104.1 535.0,105.7 537.0,107.8 542.2,113.4 537.0,119.7 535.5,121.5 532.3,122.7 525.5,125.1 518.9,122.7 515.6,121.4 514.0,119.3 509.7,113.4 514.0,107.6 515.6,105.4 520.1,104.1Z"/>
<path fill="rgb(250,128,5)" d="M504.6,57.5 504.3,58.9 502.5,61.9 495.4,66.8 493.0,68.4 495.2,76.1 491.0,80.9 488.7,83.6 485.0,85.4 479.5,88.3 479.5,85.4 479.5,76.1 479.5,66.8 479.5,61.6 488.1,64.4 491.0,61.4 494.8,57.5 502.5,57.5ZM571.5,123.0 570.7,122.7 563.6,119.8 560.0,115.5 558.2,113.4 560.0,111.7 564.3,107.6 571.5,105.4 571.5,113.4 571.5,122.7ZM571.5,200.5 564.6,197.2 561.7,195.8 560.0,193.0 556.9,187.9 560.0,182.7 561.7,179.9 564.8,178.6 571.5,175.8 571.5,178.6 571.5,187.9 571.5,197.2ZM571.5,234.4 564.2,231.1 560.4,225.1 564.0,219.1 570.5,215.8 571.5,215.3 571.5,215.8 571.5,225.1ZM511.3,355.5 514.0,351.1 516.0,347.8 519.4,346.2 525.5,343.3 535.6,345.1 537.0,343.9 545.0,336.9 546.5,335.3 548.5,334.4 550.6,335.1 552.3,336.9 551.3,339.1 548.5,341.5 541.9,346.2 539.3,348.1 543.4,355.5 537.0,355.5 525.5,355.5 514.0,355.5ZM479.5,335.8 480.1,336.4 480.2,336.9 480.4,337.6 482.1,346.2 483.3,352.4 483.8,355.5 479.5,355.5 479.5,346.2 479.5,336.9ZM479.5,119.9 487.0,122.7 489.7,123.7 491.0,125.9 494.5,132.0 491.0,137.7 489.5,140.1 486.7,141.3 479.5,144.4 479.5,141.3 479.5,132.0 479.5,122.7ZM525.5,103.4 527.5,104.1 534.2,106.3 537.0,109.3 540.8,113.4 537.0,118.0 534.7,120.8 529.6,122.7 525.5,124.2 521.6,122.7 516.4,120.8 514.0,117.5 511.0,113.4 514.0,109.4 516.5,106.1 523.2,104.1Z"/>
<path fill="rgb(240,112,3)" d="M571.5,121.7 564.6,118.9 560.0,113.4 565.3,108.3 571.5,106.5 571.5,113.4ZM571.5,199.5 566.6,197.2 562.5,195.2 560.0,191.1 558.0,187.9 560.0,184.6 562.4,180.5 567.1,178.6 571.5,176.7 571.5,178.6 571.5,187.9 571.5,197.2ZM571.5,233.1 565.2,230.2 562.0,225.1 565.1,219.9 571.5,216.7 571.5,225.1ZM512.6,355.5 514.0,353.3 516.9,348.6 521.9,346.2 525.5,344.4 535.4,346.2 536.7,346.4 537.0,347.0 541.7,355.5 537.0,355.5 525.5,355.5 514.0,355.5ZM479.5,348.1 480.8,354.5 480.9,355.5 479.5,355.5ZM479.5,120.7 484.8,122.7 489.0,124.3 491.0,127.7 493.5,132.0 491.0,136.0 488.8,139.6 484.8,141.3 479.5,143.6 479.5,141.3 479.5,132.0 479.5,122.7ZM479.5,63.7 489.0,66.8 490.4,67.3 491.0,69.3 493.0,76.1 491.0,78.4 487.4,82.5 481.6,85.4 479.5,86.5 479.5,85.4 479.5,76.1 479.5,66.8ZM525.5,104.3 533.4,107.0 537.0,110.8 539.4,113.4 537.0,116.3 533.9,120.1 526.9,122.7 525.5,123.2 524.2,122.7 517.2,120.1 514.0,115.6 512.4,113.4 514.0,111.2 517.3,106.7Z"/>
<path fill="rgb(229,96,1)" d="M571.5,120.4 565.7,118.1 561.8,113.4 566.2,109.1 571.5,107.5 571.5,113.4ZM571.5,198.5 568.7,197.2 563.2,194.6 560.0,189.3 559.2,187.9 560.0,186.5 563.2,181.1 569.3,178.6 571.5,177.6 571.5,178.6 571.5,187.9 571.5,197.2ZM571.5,231.8 566.3,229.4 563.6,225.1 566.2,220.8 571.5,218.1 571.5,225.1ZM514.0,355.5 517.8,349.3 524.3,346.2 525.5,345.6 528.8,346.2 535.5,347.4 537.0,350.1 540.0,355.5 537.0,355.5 525.5,355.5ZM479.5,121.5 482.7,122.7 488.4,124.8 491.0,129.4 492.5,132.0 491.0,134.4 488.2,139.0 482.9,141.3 479.5,142.8 479.5,141.3 479.5,132.0 479.5,122.7ZM479.5,65.8 482.7,66.8 488.6,68.7 490.7,76.1 486.1,81.4 479.5,84.8 479.5,76.1 479.5,66.8ZM525.5,105.2 532.6,107.6 537.0,112.3 538.0,113.4 537.0,114.6 533.0,119.5 525.5,122.2 518.0,119.4 514.0,113.8 513.7,113.4 514.0,112.9 518.1,107.4Z"/>
<path fill="rgb(211,76,0)" d="M571.5,119.2 566.7,117.2 563.5,113.4 567.2,109.9 571.5,108.6 571.5,113.4ZM571.5,197.6 570.7,197.2 564.0,194.0 560.3,187.9 563.9,181.7 571.5,178.6 571.5,187.9 571.5,197.2ZM571.5,230.4 567.3,228.5 565.2,225.1 567.2,221.7 571.5,219.5 571.5,225.1ZM515.4,355.5 518.7,350.0 525.5,346.8 534.3,348.3 537.0,353.2 538.3,355.5 537.0,355.5 525.5,355.5ZM479.5,122.3 480.6,122.7 487.7,125.4 491.0,131.1 491.5,132.0 491.0,132.8 487.5,138.5 480.9,141.3 479.5,141.9 479.5,141.3 479.5,132.0 479.5,122.7ZM479.5,67.8 486.8,70.2 488.5,76.1 484.8,80.4 479.5,83.1 479.5,76.1ZM525.5,106.1 531.8,108.2 536.7,113.4 532.2,118.8 525.5,121.2 518.9,118.7 515.0,113.4 518.9,108.1Z"/>
<path fill="rgb(186,53,0)" d="M571.5,117.9 567.8,116.4 565.3,113.4 568.1,110.7 571.5,109.6 571.5,113.4ZM571.5,196.6 564.7,193.4 561.4,187.9 564.7,182.4 571.5,179.5 571.5,187.9ZM571.5,229.1 568.4,227.7 566.7,225.1 568.3,222.5 571.5,220.9 571.5,225.1ZM516.7,355.5 519.6,350.8 525.5,347.9 533.2,349.3 536.6,355.5 525.5,355.5ZM479.5,123.1 487.0,125.9 490.5,132.0 486.8,137.9 479.5,141.1 479.5,132.0ZM479.5,69.9 485.0,71.7 486.2,76.1 483.4,79.3 479.5,81.3 479.5,76.1ZM525.5,107.0 531.1,108.9 535.3,113.4 531.4,118.1 525.5,120.2 519.7,118.1 516.3,113.4 519.8,108.7Z"/>
<path fill="rgb(160,30,0)" d="M571.5,116.6 568.9,115.5 567.1,113.4 569.1,111.4 571.5,110.7 571.5,113.4ZM571.5,195.6 565.5,192.8 562.5,187.9 565.4,183.0 571.5,180.4 571.5,187.9ZM571.5,227.8 569.4,226.8 568.3,225.1 569.4,223.4 571.5,222.3 571.5,225.1ZM518.1,355.5 520.5,351.5 525.5,349.1 532.0,350.2 534.9,355.5 525.5,355.5ZM479.5,123.9 486.3,126.5 489.5,132.0 486.2,137.4 479.5,140.3 479.5,132.0ZM479.5,72.0 483.1,73.2 484.0,76.1 482.1,78.3 479.5,79.6 479.5,76.1ZM525.5,107.9 530.3,109.5 533.9,113.4 530.5,117.4 525.5,119.3 520.5,117.4 517.6,113.4 520.6,109.4Z"/>
<path fill="rgb(149,38,0)" d="M571.5,115.3 569.9,114.7 568.8,113.4 570.1,112.2 571.5,111.8 571.5,113.4ZM571.5,194.6 566.2,192.1 563.6,187.9 566.2,183.6 571.5,181.4 571.5,187.9ZM571.5,226.5 570.5,226.0 569.9,225.1 570.4,224.3 571.5,223.7 571.5,225.1ZM519.4,355.5 521.4,352.2 525.5,350.3 530.8,351.2 533.2,355.5 525.5,355.5ZM479.5,124.7 485.6,127.0 488.5,132.0 485.5,136.9 479.5,139.5 479.5,132.0ZM479.5,74.1 481.3,74.6 481.7,76.1 480.8,77.2 479.5,77.9 479.5,76.1ZM525.5,108.8 529.5,110.2 532.5,113.4 529.7,116.8 525.5,118.3 521.4,116.7 518.9,113.4 521.4,110.0Z"/>
<path fill="rgb(138,45,0)" d="M571.5,114.0 571.0,113.8 570.6,113.4 571.0,113.0 571.5,112.8 571.5,113.4ZM571.5,193.7 567.0,191.5 564.8,187.9 567.0,184.2 571.5,182.3 571.5,187.9ZM520.8,355.5 522.3,352.9 525.5,351.4 529.6,352.2 531.5,355.5 525.5,355.5ZM479.5,125.5 485.0,127.6 487.5,132.0 484.8,136.3 479.5,138.6 479.5,132.0ZM525.5,109.7 528.7,110.8 531.1,113.4 528.8,116.1 525.5,117.3 522.2,116.1 520.2,113.4 522.2,110.7Z"/>
<path fill="rgb(144,80,2)" d="M571.5,192.7 567.7,190.9 565.9,187.9 567.7,184.8 571.5,183.2 571.5,187.9ZM522.1,355.5 523.2,353.7 525.5,352.6 528.4,353.1 529.8,355.5 525.5,355.5ZM479.5,126.3 484.3,128.1 486.5,132.0 484.2,135.8 479.5,137.8 479.5,132.0ZM525.5,110.6 527.9,111.4 529.7,113.4 528.0,115.4 525.5,116.3 523.0,115.4 521.6,113.4 523.0,111.4Z"/>
<path fill="rgb(150,115,5)" d="M571.5,191.7 568.5,190.3 567.0,187.9 568.5,185.4 571.5,184.1 571.5,187.9ZM523.5,355.5 524.1,354.4 525.5,353.8 527.3,354.1 528.1,355.5 525.5,355.5ZM479.5,127.1 483.6,128.7 485.5,132.0 483.5,135.2 479.5,137.0 479.5,132.0ZM525.5,111.6 527.1,112.1 528.3,113.4 527.2,114.7 525.5,115.3 523.8,114.7 522.9,113.4 523.9,112.0Z"/>
<path fill="rgb(168,146,8)" d="M571.5,190.8 569.2,189.7 568.1,187.9 569.2,186.0 571.5,185.1 571.5,187.9ZM524.8,355.5 525.0,355.1 525.5,354.9 526.1,355.0 526.4,355.5 525.5,355.5ZM479.5,128.0 482.9,129.2 484.5,132.0 482.8,134.7 479.5,136.1 479.5,132.0ZM525.5,112.5 526.3,112.7 526.9,113.4 526.3,114.1 525.5,114.4 524.7,114.0 524.2,113.4 524.7,112.7Z"/>
<path fill="rgb(185,178,12)" d="M571.5,189.8 570.0,189.1 569.3,187.9 570.0,186.6 571.5,186.0 571.5,187.9ZM479.5,128.8 482.2,129.8 483.5,132.0 482.2,134.2 479.5,135.3 479.5,132.0Z"/>
<path fill="rgb(186,179,12)" d="M571.5,188.8 570.7,188.5 570.4,187.9 570.7,187.3 571.5,186.9 571.5,187.9ZM479.5,129.6 481.5,130.3 482.5,132.0 481.5,133.6 479.5,134.5 479.5,132.0Z"/>
<path fill="rgb(187,181,12)" d="M479.5,130.4 480.9,130.9 481.5,132.0 480.8,133.1 479.5,133.7 479.5,132.0Z"/>
<path fill="rgb(188,182,12)" d="M479.5,131.2 480.2,131.4 480.5,132.0 480.2,132.5 479.5,132.8 479.5,132.0Z"/>
<path d="M479.5,57.0V356.0M502.5,57.0V356.0M525.5,57.0V356.0M548.5,57.0V356.0M571.5,57.0V356.0M479.0,57.5H572.0M479.0,76.1H572.0M479.0,94.8H572.0M479.0,113.4H572.0M479.0,132.0H572.0M479.0,150.6H572.0M479.0,169.2H572.0M479.0,187.9H572.0M479.0,206.5H572.0M479.0,225.1H572.0M479.0,243.8H572.0M479.0,262.4H572.0M479.0,281.0H572.0M479.0,299.6H572.0M479.0,318.2H572.0M479.0,336.9H572.0M479.0,355.5H572.0" stroke="#000" stroke-width="1.0" fill="none" opacity="0.7"/></g>
<filter id="nf" x="0" y="0" width="618" height="396" filterUnits="userSpaceOnUse"><feOffset dx="0" dy="0"/></filter><g filter="url(#nf)"><defs><clipPath id="clipB"><rect x="179.5" y="0" width="200" height="396"/></clipPath><clipPath id="cutB"><rect x="0.3" y="-10" width="20" height="20"/></clipPath></defs><path d="M174,30.5H1.5V386.5H266" stroke="#e9e9e9" stroke-width="1" fill="none"/><path d="M266,387V389.5H320.5V387H450" stroke="#efefef" stroke-width="1" fill="none"/><path d="M255,33.5H300M461,30.5H616" stroke="#f0f0f0" stroke-width="1" fill="none"/><path d="M616.5,30V391.5H450" stroke="#e8e8e8" stroke-width="1" fill="none"/><text transform="translate(28.4,60.3) scale(0.8,1)" font-size="9" text-anchor="end" fill="#1a1a1a">17</text><path d="M31.5,57.1H34.5" stroke="#222" stroke-width="1"/><text transform="translate(28.4,78.6) scale(0.8,1)" font-size="9" text-anchor="end" fill="#1a1a1a">16</text><path d="M31.5,75.4H34.5" stroke="#222" stroke-width="1"/><text transform="translate(28.4,96.9) scale(0.8,1)" font-size="9" text-anchor="end" fill="#1a1a1a">15</text><path d="M31.5,93.7H34.5" stroke="#222" stroke-width="1"/><text transform="translate(28.4,115.2) scale(0.8,1)" font-size="9" text-anchor="end" fill="#1a1a1a">14</text><path d="M31.5,112.0H34.5" stroke="#222" stroke-width="1"/><text transform="translate(28.4,133.5) scale(0.8,1)" font-size="9" text-anchor="end" fill="#1a1a1a">13</text><path d="M31.5,130.3H34.5" stroke="#222" stroke-width="1"/><text transform="translate(28.4,151.9) scale(0.8,1)" font-size="9" text-anchor="end" fill="#1a1a1a">12</text><path d="M31.5,148.7H34.5" stroke="#222" stroke-width="1"/><text transform="translate(28.4,170.2) scale(0.8,1)" font-size="9" text-anchor="end" fill="#1a1a1a">11</text><path d="M31.5,167.0H34.5" stroke="#222" stroke-width="1"/><text transform="translate(28.4,188.5) scale(0.8,1)" font-size="9" text-anchor="end" fill="#1a1a1a">10</text><path d="M31.5,185.3H34.5" stroke="#222" stroke-width="1"/><text transform="translate(28.4,206.8) scale(0.8,1)" font-size="9" text-anchor="end" fill="#1a1a1a">9</text><path d="M31.5,203.6H34.5" stroke="#222" stroke-width="1"/><text transform="translate(28.4,225.1) scale(0.8,1)" font-size="9" text-anchor="end" fill="#1a1a1a">8</text><path d="M31.5,221.9H34.5" stroke="#222" stroke-width="1"/><text transform="translate(28.4,243.4) scale(0.8,1)" font-size="9" text-anchor="end" fill="#1a1a1a">7</text><path d="M31.5,240.2H34.5" stroke="#222" stroke-width="1"/><text transform="translate(28.4,261.7) scale(0.8,1)" font-size="9" text-anchor="end" fill="#1a1a1a">6</text><path d="M31.5,258.5H34.5" stroke="#222" stroke-width="1"/><text transform="translate(28.4,280.1) scale(0.8,1)" font-size="9" text-anchor="end" fill="#1a1a1a">5</text><path d="M31.5,276.9H34.5" stroke="#222" stroke-width="1"/><text transform="translate(28.4,298.4) scale(0.8,1)" font-size="9" text-anchor="end" fill="#1a1a1a">4</text><path d="M31.5,295.2H34.5" stroke="#222" stroke-width="1"/><text transform="translate(28.4,316.7) scale(0.8,1)" font-size="9" text-anchor="end" fill="#1a1a1a">3</text><path d="M31.5,313.5H34.5" stroke="#222" stroke-width="1"/><text transform="translate(28.4,335.0) scale(0.8,1)" font-size="9" text-anchor="end" fill="#1a1a1a">2</text><path d="M31.5,331.8H34.5" stroke="#222" stroke-width="1"/><text transform="translate(28.4,353.3) scale(0.8,1)" font-size="9" text-anchor="end" fill="#1a1a1a">1</text><path d="M31.5,350.1H34.5" stroke="#222" stroke-width="1"/><text transform="translate(34.5,365.0) scale(0.8,1)" font-size="9" text-anchor="middle" fill="#1a1a1a">0</text><path d="M34.5,350.1V353.1" stroke="#222" stroke-width="1"/><text transform="translate(57.5,365.0) scale(0.8,1)" font-size="9" text-anchor="middle" fill="#1a1a1a">1</text><path d="M57.5,350.1V353.1" stroke="#222" stroke-width="1"/><text transform="translate(80.5,365.0) scale(0.8,1)" font-size="9" text-anchor="middle" fill="#1a1a1a">2</text><path d="M80.5,350.1V353.1" stroke="#222" stroke-width="1"/><text transform="translate(103.5,365.0) scale(0.8,1)" font-size="9" text-anchor="middle" fill="#1a1a1a">3</text><path d="M103.5,350.1V353.1" stroke="#222" stroke-width="1"/><text transform="translate(126.5,365.0) scale(0.8,1)" font-size="9" text-anchor="middle" fill="#1a1a1a">4</text><path d="M126.5,350.1V353.1" stroke="#222" stroke-width="1"/><text transform="translate(178.5,364.3) scale(0.8,1)" font-size="9" text-anchor="middle" fill="#1a1a1a" clip-path="url(#cutB)">0</text><path d="M178.5,349.6V352.6" stroke="#222" stroke-width="1"/><text transform="translate(199.5,364.3) scale(0.8,1)" font-size="9" text-anchor="middle" fill="#1a1a1a">1</text><path d="M199.5,349.6V352.6" stroke="#222" stroke-width="1"/><text transform="translate(220.5,364.3) scale(0.8,1)" font-size="9" text-anchor="middle" fill="#1a1a1a">2</text><path d="M220.5,349.6V352.6" stroke="#222" stroke-width="1"/><text transform="translate(241.5,364.3) scale(0.8,1)" font-size="9" text-anchor="middle" fill="#1a1a1a">3</text><path d="M241.5,349.6V352.6" stroke="#222" stroke-width="1"/><text transform="translate(262.5,364.3) scale(0.8,1)" font-size="9" text-anchor="middle" fill="#1a1a1a">4</text><path d="M262.5,349.6V352.6" stroke="#222" stroke-width="1"/><text transform="translate(322.5,58.6) scale(0.8,1)" font-size="9" text-anchor="end" fill="#1a1a1a">17</text><path d="M324.5,55.4H327.5" stroke="#222" stroke-width="1"/><text transform="translate(322.5,77.0) scale(0.8,1)" font-size="9" text-anchor="end" fill="#1a1a1a">16</text><path d="M324.5,73.8H327.5" stroke="#222" stroke-width="1"/><text transform="translate(322.5,95.4) scale(0.8,1)" font-size="9" text-anchor="end" fill="#1a1a1a">15</text><path d="M324.5,92.2H327.5" stroke="#222" stroke-width="1"/><text transform="translate(322.5,113.8) scale(0.8,1)" font-size="9" text-anchor="end" fill="#1a1a1a">14</text><path d="M324.5,110.6H327.5" stroke="#222" stroke-width="1"/><text transform="translate(322.5,132.2) scale(0.8,1)" font-size="9" text-anchor="end" fill="#1a1a1a">13</text><path d="M324.5,129.1H327.5" stroke="#222" stroke-width="1"/><text transform="translate(322.5,150.7) scale(0.8,1)" font-size="9" text-anchor="end" fill="#1a1a1a">12</text><path d="M324.5,147.5H327.5" stroke="#222" stroke-width="1"/><text transform="translate(322.5,169.1) scale(0.8,1)" font-size="9" text-anchor="end" fill="#1a1a1a">11</text><path d="M324.5,165.9H327.5" stroke="#222" stroke-width="1"/><text transform="translate(322.5,187.5) scale(0.8,1)" font-size="9" text-anchor="end" fill="#1a1a1a">10</text><path d="M324.5,184.3H327.5" stroke="#222" stroke-width="1"/><text transform="translate(322.5,205.9) scale(0.8,1)" font-size="9" text-anchor="end" fill="#1a1a1a">9</text><path d="M324.5,202.7H327.5" stroke="#222" stroke-width="1"/><text transform="translate(322.5,224.3) scale(0.8,1)" font-size="9" text-anchor="end" fill="#1a1a1a">8</text><path d="M324.5,221.1H327.5" stroke="#222" stroke-width="1"/><text transform="translate(322.5,242.7) scale(0.8,1)" font-size="9" text-anchor="end" fill="#1a1a1a">7</text><path d="M324.5,239.5H327.5" stroke="#222" stroke-width="1"/><text transform="translate(322.5,261.1) scale(0.8,1)" font-size="9" text-anchor="end" fill="#1a1a1a">6</text><path d="M324.5,257.9H327.5" stroke="#222" stroke-width="1"/><text transform="translate(322.5,279.6) scale(0.8,1)" font-size="9" text-anchor="end" fill="#1a1a1a">5</text><path d="M324.5,276.4H327.5" stroke="#222" stroke-width="1"/><text transform="translate(322.5,298.0) scale(0.8,1)" font-size="9" text-anchor="end" fill="#1a1a1a">4</text><path d="M324.5,294.8H327.5" stroke="#222" stroke-width="1"/><text transform="translate(322.5,316.4) scale(0.8,1)" font-size="9" text-anchor="end" fill="#1a1a1a">3</text><path d="M324.5,313.2H327.5" stroke="#222" stroke-width="1"/><text transform="translate(322.5,334.8) scale(0.8,1)" font-size="9" text-anchor="end" fill="#1a1a1a">2</text><path d="M324.5,331.6H327.5" stroke="#222" stroke-width="1"/><text transform="translate(322.5,353.2) scale(0.8,1)" font-size="9" text-anchor="end" fill="#1a1a1a">1</text><path d="M324.5,350.0H327.5" stroke="#222" stroke-width="1"/><text transform="translate(327.5,365.0) scale(0.8,1)" font-size="9" text-anchor="middle" fill="#1a1a1a">0</text><path d="M327.5,350.0V353.0" stroke="#222" stroke-width="1"/><text transform="translate(350.5,365.0) scale(0.8,1)" font-size="9" text-anchor="middle" fill="#1a1a1a">1</text><path d="M350.5,350.0V353.0" stroke="#222" stroke-width="1"/><text transform="translate(373.5,365.0) scale(0.8,1)" font-size="9" text-anchor="middle" fill="#1a1a1a">2</text><path d="M373.5,350.0V353.0" stroke="#222" stroke-width="1"/><text transform="translate(396.5,365.0) scale(0.8,1)" font-size="9" text-anchor="middle" fill="#1a1a1a">3</text><path d="M396.5,350.0V353.0" stroke="#222" stroke-width="1"/><text transform="translate(419.5,365.0) scale(0.8,1)" font-size="9" text-anchor="middle" fill="#1a1a1a">4</text><path d="M419.5,350.0V353.0" stroke="#222" stroke-width="1"/><text transform="translate(474.9,60.7) scale(0.8,1)" font-size="9" text-anchor="end" fill="#1a1a1a">17</text><path d="M476.5,57.5H479.5" stroke="#222" stroke-width="1"/><text transform="translate(474.9,79.3) scale(0.8,1)" font-size="9" text-anchor="end" fill="#1a1a1a">16</text><path d="M476.5,76.1H479.5" stroke="#222" stroke-width="1"/><text transform="translate(474.9,98.0) scale(0.8,1)" font-size="9" text-anchor="end" fill="#1a1a1a">15</text><path d="M476.5,94.8H479.5" stroke="#222" stroke-width="1"/><text transform="translate(474.9,116.6) scale(0.8,1)" font-size="9" text-anchor="end" fill="#1a1a1a">14</text><path d="M476.5,113.4H479.5" stroke="#222" stroke-width="1"/><text transform="translate(474.9,135.2) scale(0.8,1)" font-size="9" text-anchor="end" fill="#1a1a1a">13</text><path d="M476.5,132.0H479.5" stroke="#222" stroke-width="1"/><text transform="translate(474.9,153.8) scale(0.8,1)" font-size="9" text-anchor="end" fill="#1a1a1a">12</text><path d="M476.5,150.6H479.5" stroke="#222" stroke-width="1"/><text transform="translate(474.9,172.4) scale(0.8,1)" font-size="9" text-anchor="end" fill="#1a1a1a">11</text><path d="M476.5,169.2H479.5" stroke="#222" stroke-width="1"/><text transform="translate(474.9,191.1) scale(0.8,1)" font-size="9" text-anchor="end" fill="#1a1a1a">10</text><path d="M476.5,187.9H479.5" stroke="#222" stroke-width="1"/><text transform="translate(474.9,209.7) scale(0.8,1)" font-size="9" text-anchor="end" fill="#1a1a1a">9</text><path d="M476.5,206.5H479.5" stroke="#222" stroke-width="1"/><text transform="translate(474.9,228.3) scale(0.8,1)" font-size="9" text-anchor="end" fill="#1a1a1a">8</text><path d="M476.5,225.1H479.5" stroke="#222" stroke-width="1"/><text transform="translate(474.9,246.9) scale(0.8,1)" font-size="9" text-anchor="end" fill="#1a1a1a">7</text><path d="M476.5,243.8H479.5" stroke="#222" stroke-width="1"/><text transform="translate(474.9,265.6) scale(0.8,1)" font-size="9" text-anchor="end" fill="#1a1a1a">6</text><path d="M476.5,262.4H479.5" stroke="#222" stroke-width="1"/><text transform="translate(474.9,284.2) scale(0.8,1)" font-size="9" text-anchor="end" fill="#1a1a1a">5</text><path d="M476.5,281.0H479.5" stroke="#222" stroke-width="1"/><text transform="translate(474.9,302.8) scale(0.8,1)" font-size="9" text-anchor="end" fill="#1a1a1a">4</text><path d="M476.5,299.6H479.5" stroke="#222" stroke-width="1"/><text transform="translate(474.9,321.4) scale(0.8,1)" font-size="9" text-anchor="end" fill="#1a1a1a">3</text><path d="M476.5,318.2H479.5" stroke="#222" stroke-width="1"/><text transform="translate(474.9,340.1) scale(0.8,1)" font-size="9" text-anchor="end" fill="#1a1a1a">2</text><path d="M476.5,336.9H479.5" stroke="#222" stroke-width="1"/><text transform="translate(474.9,358.7) scale(0.8,1)" font-size="9" text-anchor="end" fill="#1a1a1a">1</text><path d="M476.5,355.5H479.5" stroke="#222" stroke-width="1"/><text transform="translate(479.5,370.5) scale(0.8,1)" font-size="9" text-anchor="middle" fill="#1a1a1a">0</text><path d="M479.5,355.5V358.5" stroke="#222" stroke-width="1"/><text transform="translate(502.5,370.5) scale(0.8,1)" font-size="9" text-anchor="middle" fill="#1a1a1a">1</text><path d="M502.5,355.5V358.5" stroke="#222" stroke-width="1"/><text transform="translate(525.5,370.5) scale(0.8,1)" font-size="9" text-anchor="middle" fill="#1a1a1a">2</text><path d="M525.5,355.5V358.5" stroke="#222" stroke-width="1"/><text transform="translate(548.5,370.5) scale(0.8,1)" font-size="9" text-anchor="middle" fill="#1a1a1a">3</text><path d="M548.5,355.5V358.5" stroke="#222" stroke-width="1"/><text transform="translate(571.5,370.5) scale(0.8,1)" font-size="9" text-anchor="middle" fill="#1a1a1a">4</text><path d="M571.5,355.5V358.5" stroke="#222" stroke-width="1"/><rect x="130.4" y="151.5" width="43.3" height="75.5" fill="#fff" stroke="#6e6e6e" stroke-width="1"/><rect x="135.5" y="158.2" width="15.4" height="8.5" fill="#003c00" stroke="#222" stroke-width="0.8"/><text transform="translate(155.3,165.2) scale(0.88,1)" font-size="8.4" fill="#1a1a1a">0.0</text><rect x="135.5" y="169.0" width="15.4" height="8.5" fill="#00f020" stroke="#222" stroke-width="0.8"/><text transform="translate(155.3,176.0) scale(0.88,1)" font-size="8.4" fill="#1a1a1a">0.2</text><rect x="135.5" y="179.8" width="15.4" height="8.5" fill="#008c00" stroke="#222" stroke-width="0.8"/><text transform="translate(155.3,186.8) scale(0.88,1)" font-size="8.4" fill="#1a1a1a">0.4</text><rect x="135.5" y="190.6" width="15.4" height="8.5" fill="#b4e614" stroke="#222" stroke-width="0.8"/><text transform="translate(155.3,197.6) scale(0.88,1)" font-size="8.4" fill="#1a1a1a">0.6</text><rect x="135.5" y="201.4" width="15.4" height="8.5" fill="#50c814" stroke="#222" stroke-width="0.8"/><text transform="translate(155.3,208.4) scale(0.88,1)" font-size="8.4" fill="#1a1a1a">0.8</text><rect x="135.5" y="212.2" width="15.4" height="8.5" fill="#e6f01e" stroke="#222" stroke-width="0.8"/><text transform="translate(155.3,219.2) scale(0.88,1)" font-size="8.4" fill="#1a1a1a">1.0</text><rect x="266.5" y="139.5" width="41.0" height="98.5" fill="#fff" stroke="#6e6e6e" stroke-width="1"/><rect x="271.3" y="146.5" width="15.4" height="8.5" fill="#003c00" stroke="#222" stroke-width="0.8"/><text transform="translate(290.3,153.5) scale(0.88,1)" font-size="8.4" fill="#1a1a1a">0.0</text><rect x="271.3" y="157.6" width="15.4" height="8.5" fill="#00c814" stroke="#222" stroke-width="0.8"/><text transform="translate(290.3,164.6) scale(0.88,1)" font-size="8.4" fill="#1a1a1a">0.5</text><rect x="271.3" y="168.7" width="15.4" height="8.5" fill="#14dc14" stroke="#222" stroke-width="0.8"/><text transform="translate(290.3,175.7) scale(0.88,1)" font-size="8.4" fill="#1a1a1a">1.0</text><rect x="271.3" y="179.7" width="15.4" height="8.5" fill="#008c00" stroke="#222" stroke-width="0.8"/><text transform="translate(290.3,186.7) scale(0.88,1)" font-size="8.4" fill="#1a1a1a">1.5</text><rect x="271.3" y="190.8" width="15.4" height="8.5" fill="#8cdc14" stroke="#222" stroke-width="0.8"/><text transform="translate(290.3,197.8) scale(0.88,1)" font-size="8.4" fill="#1a1a1a">2.0</text><rect x="271.3" y="201.9" width="15.4" height="8.5" fill="#a0e614" stroke="#222" stroke-width="0.8"/><text transform="translate(290.3,208.9) scale(0.88,1)" font-size="8.4" fill="#1a1a1a">2.5</text><rect x="271.3" y="213.0" width="15.4" height="8.5" fill="#50c814" stroke="#222" stroke-width="0.8"/><text transform="translate(290.3,220.0) scale(0.88,1)" font-size="8.4" fill="#1a1a1a">3.0</text><rect x="271.3" y="224.1" width="15.4" height="8.5" fill="#dcf01e" stroke="#222" stroke-width="0.8"/><text transform="translate(290.3,231.1) scale(0.88,1)" font-size="8.4" fill="#1a1a1a">3.5</text><rect x="420.0" y="154.7" width="37.5" height="64.2" fill="#fff" stroke="#6e6e6e" stroke-width="1"/><rect x="423.6" y="161.8" width="15.4" height="8.5" fill="#8b0a0a" stroke="#222" stroke-width="0.8"/><text transform="translate(441.8,168.8) scale(0.88,1)" font-size="8.4" fill="#1a1a1a">0.0</text><rect x="423.6" y="172.9" width="15.4" height="8.5" fill="#c8c800" stroke="#222" stroke-width="0.8"/><text transform="translate(441.8,179.9) scale(0.88,1)" font-size="8.4" fill="#1a1a1a">0.5</text><rect x="423.6" y="184.0" width="15.4" height="8.5" fill="#8b1e00" stroke="#222" stroke-width="0.8"/><text transform="translate(441.8,191.0) scale(0.88,1)" font-size="8.4" fill="#1a1a1a">1.0</text><rect x="423.6" y="195.1" width="15.4" height="8.5" fill="#f07800" stroke="#222" stroke-width="0.8"/><text transform="translate(441.8,202.1) scale(0.88,1)" font-size="8.4" fill="#1a1a1a">1.5</text><rect x="423.6" y="206.2" width="15.4" height="8.5" fill="#8b5a00" stroke="#222" stroke-width="0.8"/><text transform="translate(441.8,213.2) scale(0.88,1)" font-size="8.4" fill="#1a1a1a">2.0</text><rect x="574.6" y="139.5" width="41.3" height="85.7" fill="#fff" stroke="#6e6e6e" stroke-width="1"/><rect x="578.5" y="146.2" width="15.4" height="8.5" fill="#8b7d14" stroke="#222" stroke-width="0.8"/><text transform="translate(596.8,153.2) scale(0.88,1)" font-size="8.4" fill="#1a1a1a">0</text><rect x="578.5" y="157.4" width="15.4" height="8.5" fill="#8b4a0a" stroke="#222" stroke-width="0.8"/><text transform="translate(596.8,164.4) scale(0.88,1)" font-size="8.4" fill="#1a1a1a">20</text><rect x="578.5" y="168.5" width="15.4" height="8.5" fill="#f07d0a" stroke="#222" stroke-width="0.8"/><text transform="translate(596.8,175.5) scale(0.88,1)" font-size="8.4" fill="#1a1a1a">40</text><rect x="578.5" y="179.7" width="15.4" height="8.5" fill="#b43c00" stroke="#222" stroke-width="0.8"/><text transform="translate(596.8,186.7) scale(0.88,1)" font-size="8.4" fill="#1a1a1a">60</text><rect x="578.5" y="190.9" width="15.4" height="8.5" fill="#8b5000" stroke="#222" stroke-width="0.8"/><text transform="translate(596.8,197.9) scale(0.88,1)" font-size="8.4" fill="#1a1a1a">80</text><rect x="578.5" y="202.0" width="15.4" height="8.5" fill="#b4aa14" stroke="#222" stroke-width="0.8"/><text transform="translate(596.8,209.0) scale(0.88,1)" font-size="8.4" fill="#1a1a1a">100</text><rect x="578.5" y="213.2" width="15.4" height="8.5" fill="#8b0000" stroke="#222" stroke-width="0.8"/><text transform="translate(596.8,220.2) scale(0.88,1)" font-size="8.4" fill="#1a1a1a">120</text><text x="307.7" y="12" font-size="12.7" font-weight="bold" text-anchor="middle" fill="#000">Spatial patterns at pre-harvest (2006)</text><text x="30" y="39.7" font-size="11.1" font-weight="bold" fill="#000">A) CEW damage</text><text x="175" y="39.7" font-size="11.1" font-weight="bold" fill="#000">B) Maize weevil</text><text x="311.3" y="39.7" font-size="11.1" font-weight="bold" fill="#000">C) Stink bug damage</text><text x="487.3" y="39.7" font-size="11.2" font-weight="bold" fill="#000">D) Aflatoxin</text><text x="265.6" y="383.1" font-size="11.6" font-weight="bold" fill="#000" textLength="55.7" lengthAdjust="spacingAndGlyphs">Field width</text><text transform="translate(13.9,211.5) rotate(-90)" font-size="12.1" font-weight="bold" text-anchor="middle" fill="#000">Field length</text></g>
</svg>
</body></html>
